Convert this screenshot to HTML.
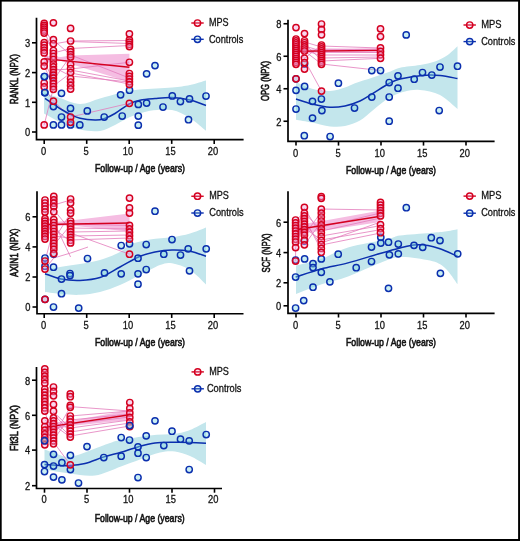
<!DOCTYPE html>
<html><head><meta charset="utf-8"><style>
html,body{margin:0;padding:0;background:#fff;}
svg{display:block;font-family:"Liberation Sans", sans-serif;will-change:transform;}
</style></head><body>
<svg width="520" height="541" viewBox="0 0 520 541">
<rect x="0" y="0" width="520" height="541" fill="#fff"/>
<path d="M44.0,93.0 C46.7,93.8 54.0,96.2 60.0,98.0 C66.0,99.8 73.3,103.9 80.0,104.0 C86.7,104.1 93.3,100.3 100.0,98.5 C106.7,96.7 113.3,94.5 120.0,93.0 C126.7,91.5 131.3,90.4 140.0,89.5 C148.7,88.6 163.7,88.2 172.0,87.4 C180.3,86.7 184.3,86.2 190.0,85.0 C195.7,83.8 203.3,81.2 206.0,80.5 L206.0,130.8 C203.3,128.7 195.7,121.5 190.0,118.0 C184.3,114.5 178.7,111.2 172.0,110.0 C165.3,108.8 157.0,109.6 150.0,110.8 C143.0,112.0 135.8,114.6 130.0,117.0 C124.2,119.4 120.0,122.7 115.0,125.0 C110.0,127.3 105.8,130.2 100.0,131.0 C94.2,131.8 86.7,131.1 80.0,129.6 C73.3,128.1 66.0,124.7 60.0,122.0 C54.0,119.3 46.7,114.9 44.0,113.5 Z" fill="#c3e6ec"/>
<polygon points="44.2,56.0 61.0,57.0 70.6,55.5 129.4,53.8 129.4,82.0 70.6,64.0 61.0,61.0 44.2,63.0" fill="#f5bde2"/>
<polyline points="70.6,41.0 129.4,40.5" fill="none" stroke="#e47cbc" stroke-width="1.0" opacity="0.8"/>
<polyline points="70.6,41.5 129.4,43.5" fill="none" stroke="#e47cbc" stroke-width="1.0" opacity="0.8"/>
<polyline points="70.6,48.5 129.4,45.5" fill="none" stroke="#e47cbc" stroke-width="1.0" opacity="0.8"/>
<polyline points="70.6,55.0 129.4,78.0" fill="none" stroke="#e47cbc" stroke-width="1.0" opacity="0.8"/>
<polyline points="70.6,69.0 129.4,62.3" fill="none" stroke="#e47cbc" stroke-width="1.0" opacity="0.8"/>
<polyline points="70.6,70.0 129.4,81.0" fill="none" stroke="#e47cbc" stroke-width="1.0" opacity="0.8"/>
<polyline points="70.6,73.0 129.4,84.0" fill="none" stroke="#e47cbc" stroke-width="1.0" opacity="0.8"/>
<polyline points="70.6,76.0 129.4,82.0" fill="none" stroke="#e47cbc" stroke-width="1.0" opacity="0.8"/>
<polyline points="70.6,117.0 129.4,103.3" fill="none" stroke="#e47cbc" stroke-width="1.0" opacity="0.8"/>
<polyline points="44.2,28.0 53.4,44.0 70.6,41.0" fill="none" stroke="#e47cbc" stroke-width="1.0" opacity="0.8"/>
<polyline points="44.2,31.0 53.4,53.0 70.6,48.5" fill="none" stroke="#e47cbc" stroke-width="1.0" opacity="0.8"/>
<polyline points="44.2,46.0 53.4,40.0 70.6,55.0" fill="none" stroke="#e47cbc" stroke-width="1.0" opacity="0.8"/>
<polyline points="44.2,50.0 53.4,70.0 70.6,69.0" fill="none" stroke="#e47cbc" stroke-width="1.0" opacity="0.8"/>
<polyline points="44.2,62.0 53.4,80.0 70.6,56.0" fill="none" stroke="#e47cbc" stroke-width="1.0" opacity="0.8"/>
<polyline points="44.2,66.0 53.4,86.0 70.6,73.0" fill="none" stroke="#e47cbc" stroke-width="1.0" opacity="0.8"/>
<polyline points="44.2,84.0 53.4,67.0 70.6,76.0" fill="none" stroke="#e47cbc" stroke-width="1.0" opacity="0.8"/>
<polyline points="44.2,124.9 53.4,88.0" fill="none" stroke="#e47cbc" stroke-width="1.0" opacity="0.8"/>
<polyline points="44.2,88.0 53.4,101.0 70.6,117.0" fill="none" stroke="#e47cbc" stroke-width="1.0" opacity="0.8"/>
<polyline points="44.2,58.6 129.4,67.3" fill="none" stroke="#d4001f" stroke-width="1.4"/>
<path d="M45.0,98.4 C46.4,99.3 50.6,102.2 53.4,104.0 C56.1,105.8 58.6,107.8 61.5,109.5 C64.4,111.2 67.5,113.0 70.6,114.5 C73.7,116.0 75.9,117.4 80.0,118.3 C84.1,119.2 91.0,119.9 95.0,120.0 C99.0,120.1 100.7,119.9 104.0,118.8 C107.3,117.7 110.8,116.0 115.0,113.5 C119.2,111.0 125.3,106.0 129.5,103.8 C133.7,101.6 135.8,101.1 140.0,100.2 C144.2,99.3 149.7,99.0 155.0,98.6 C160.3,98.1 166.2,97.3 172.0,97.5 C177.8,97.7 184.3,98.7 190.0,100.0 C195.7,101.3 203.3,104.6 206.0,105.5" fill="none" stroke="#0b2fae" stroke-width="1.5"/>
<circle cx="44.4" cy="76.5" r="3.15" fill="#80d8e0" fill-opacity="0.42" stroke="#0b2fae" stroke-width="1.45"/>
<circle cx="52.8" cy="77.0" r="3.15" fill="#80d8e0" fill-opacity="0.42" stroke="#0b2fae" stroke-width="1.45"/>
<circle cx="44.8" cy="92.5" r="3.15" fill="#80d8e0" fill-opacity="0.42" stroke="#0b2fae" stroke-width="1.45"/>
<circle cx="61.5" cy="93.3" r="3.15" fill="#80d8e0" fill-opacity="0.42" stroke="#0b2fae" stroke-width="1.45"/>
<circle cx="53.4" cy="106.5" r="3.15" fill="#80d8e0" fill-opacity="0.42" stroke="#0b2fae" stroke-width="1.45"/>
<circle cx="70.5" cy="108.4" r="3.15" fill="#80d8e0" fill-opacity="0.42" stroke="#0b2fae" stroke-width="1.45"/>
<circle cx="61.5" cy="117.0" r="3.15" fill="#80d8e0" fill-opacity="0.42" stroke="#0b2fae" stroke-width="1.45"/>
<circle cx="87.3" cy="110.9" r="3.15" fill="#80d8e0" fill-opacity="0.42" stroke="#0b2fae" stroke-width="1.45"/>
<circle cx="104.2" cy="117.0" r="3.15" fill="#80d8e0" fill-opacity="0.42" stroke="#0b2fae" stroke-width="1.45"/>
<circle cx="122.2" cy="116.0" r="3.15" fill="#80d8e0" fill-opacity="0.42" stroke="#0b2fae" stroke-width="1.45"/>
<circle cx="120.6" cy="94.8" r="3.15" fill="#80d8e0" fill-opacity="0.42" stroke="#0b2fae" stroke-width="1.45"/>
<circle cx="129.5" cy="90.2" r="3.15" fill="#80d8e0" fill-opacity="0.42" stroke="#0b2fae" stroke-width="1.45"/>
<circle cx="53.4" cy="124.9" r="3.15" fill="#80d8e0" fill-opacity="0.42" stroke="#0b2fae" stroke-width="1.45"/>
<circle cx="61.5" cy="124.9" r="3.15" fill="#80d8e0" fill-opacity="0.42" stroke="#0b2fae" stroke-width="1.45"/>
<circle cx="70.5" cy="124.9" r="3.15" fill="#80d8e0" fill-opacity="0.42" stroke="#0b2fae" stroke-width="1.45"/>
<circle cx="79.8" cy="124.9" r="3.15" fill="#80d8e0" fill-opacity="0.42" stroke="#0b2fae" stroke-width="1.45"/>
<circle cx="138.3" cy="104.4" r="3.15" fill="#80d8e0" fill-opacity="0.42" stroke="#0b2fae" stroke-width="1.45"/>
<circle cx="138.3" cy="116.1" r="3.15" fill="#80d8e0" fill-opacity="0.42" stroke="#0b2fae" stroke-width="1.45"/>
<circle cx="138.3" cy="125.2" r="3.15" fill="#80d8e0" fill-opacity="0.42" stroke="#0b2fae" stroke-width="1.45"/>
<circle cx="146.6" cy="73.8" r="3.15" fill="#80d8e0" fill-opacity="0.42" stroke="#0b2fae" stroke-width="1.45"/>
<circle cx="155.0" cy="65.6" r="3.15" fill="#80d8e0" fill-opacity="0.42" stroke="#0b2fae" stroke-width="1.45"/>
<circle cx="146.6" cy="103.1" r="3.15" fill="#80d8e0" fill-opacity="0.42" stroke="#0b2fae" stroke-width="1.45"/>
<circle cx="163.0" cy="107.0" r="3.15" fill="#80d8e0" fill-opacity="0.42" stroke="#0b2fae" stroke-width="1.45"/>
<circle cx="172.3" cy="95.9" r="3.15" fill="#80d8e0" fill-opacity="0.42" stroke="#0b2fae" stroke-width="1.45"/>
<circle cx="180.4" cy="101.5" r="3.15" fill="#80d8e0" fill-opacity="0.42" stroke="#0b2fae" stroke-width="1.45"/>
<circle cx="189.5" cy="98.9" r="3.15" fill="#80d8e0" fill-opacity="0.42" stroke="#0b2fae" stroke-width="1.45"/>
<circle cx="188.5" cy="119.7" r="3.15" fill="#80d8e0" fill-opacity="0.42" stroke="#0b2fae" stroke-width="1.45"/>
<circle cx="206.0" cy="96.0" r="3.15" fill="#80d8e0" fill-opacity="0.42" stroke="#0b2fae" stroke-width="1.45"/>
<circle cx="44.2" cy="23.4" r="3.15" fill="#f0a0d8" fill-opacity="0.42" stroke="#d4001f" stroke-width="1.45"/>
<circle cx="44.2" cy="25.3" r="3.15" fill="#f0a0d8" fill-opacity="0.42" stroke="#d4001f" stroke-width="1.45"/>
<circle cx="44.2" cy="27.2" r="3.15" fill="#f0a0d8" fill-opacity="0.42" stroke="#d4001f" stroke-width="1.45"/>
<circle cx="44.2" cy="29.2" r="3.15" fill="#f0a0d8" fill-opacity="0.42" stroke="#d4001f" stroke-width="1.45"/>
<circle cx="44.2" cy="31.1" r="3.15" fill="#f0a0d8" fill-opacity="0.42" stroke="#d4001f" stroke-width="1.45"/>
<circle cx="44.2" cy="33.0" r="3.15" fill="#f0a0d8" fill-opacity="0.42" stroke="#d4001f" stroke-width="1.45"/>
<circle cx="44.2" cy="42.6" r="3.15" fill="#f0a0d8" fill-opacity="0.42" stroke="#d4001f" stroke-width="1.45"/>
<circle cx="44.2" cy="45.2" r="3.15" fill="#f0a0d8" fill-opacity="0.42" stroke="#d4001f" stroke-width="1.45"/>
<circle cx="44.2" cy="47.8" r="3.15" fill="#f0a0d8" fill-opacity="0.42" stroke="#d4001f" stroke-width="1.45"/>
<circle cx="44.2" cy="50.3" r="3.15" fill="#f0a0d8" fill-opacity="0.42" stroke="#d4001f" stroke-width="1.45"/>
<circle cx="44.2" cy="52.9" r="3.15" fill="#f0a0d8" fill-opacity="0.42" stroke="#d4001f" stroke-width="1.45"/>
<circle cx="44.2" cy="61.9" r="3.15" fill="#f0a0d8" fill-opacity="0.42" stroke="#d4001f" stroke-width="1.45"/>
<circle cx="44.2" cy="66.1" r="3.15" fill="#f0a0d8" fill-opacity="0.42" stroke="#d4001f" stroke-width="1.45"/>
<circle cx="44.2" cy="83.0" r="3.15" fill="#f0a0d8" fill-opacity="0.42" stroke="#d4001f" stroke-width="1.45"/>
<circle cx="44.2" cy="86.8" r="3.15" fill="#f0a0d8" fill-opacity="0.42" stroke="#d4001f" stroke-width="1.45"/>
<circle cx="44.2" cy="124.9" r="3.15" fill="#f0a0d8" fill-opacity="0.42" stroke="#d4001f" stroke-width="1.45"/>
<circle cx="53.4" cy="22.8" r="3.15" fill="#f0a0d8" fill-opacity="0.42" stroke="#d4001f" stroke-width="1.45"/>
<circle cx="53.4" cy="39.7" r="3.15" fill="#f0a0d8" fill-opacity="0.42" stroke="#d4001f" stroke-width="1.45"/>
<circle cx="53.4" cy="43.8" r="3.15" fill="#f0a0d8" fill-opacity="0.42" stroke="#d4001f" stroke-width="1.45"/>
<circle cx="53.4" cy="50.5" r="3.15" fill="#f0a0d8" fill-opacity="0.42" stroke="#d4001f" stroke-width="1.45"/>
<circle cx="53.4" cy="53.5" r="3.15" fill="#f0a0d8" fill-opacity="0.42" stroke="#d4001f" stroke-width="1.45"/>
<circle cx="53.4" cy="56.5" r="3.15" fill="#f0a0d8" fill-opacity="0.42" stroke="#d4001f" stroke-width="1.45"/>
<circle cx="53.4" cy="59.5" r="3.15" fill="#f0a0d8" fill-opacity="0.42" stroke="#d4001f" stroke-width="1.45"/>
<circle cx="53.4" cy="64.0" r="3.15" fill="#f0a0d8" fill-opacity="0.42" stroke="#d4001f" stroke-width="1.45"/>
<circle cx="53.4" cy="66.8" r="3.15" fill="#f0a0d8" fill-opacity="0.42" stroke="#d4001f" stroke-width="1.45"/>
<circle cx="53.4" cy="69.6" r="3.15" fill="#f0a0d8" fill-opacity="0.42" stroke="#d4001f" stroke-width="1.45"/>
<circle cx="53.4" cy="72.4" r="3.15" fill="#f0a0d8" fill-opacity="0.42" stroke="#d4001f" stroke-width="1.45"/>
<circle cx="53.4" cy="75.2" r="3.15" fill="#f0a0d8" fill-opacity="0.42" stroke="#d4001f" stroke-width="1.45"/>
<circle cx="53.4" cy="78.1" r="3.15" fill="#f0a0d8" fill-opacity="0.42" stroke="#d4001f" stroke-width="1.45"/>
<circle cx="53.4" cy="80.9" r="3.15" fill="#f0a0d8" fill-opacity="0.42" stroke="#d4001f" stroke-width="1.45"/>
<circle cx="53.4" cy="83.7" r="3.15" fill="#f0a0d8" fill-opacity="0.42" stroke="#d4001f" stroke-width="1.45"/>
<circle cx="53.4" cy="86.5" r="3.15" fill="#f0a0d8" fill-opacity="0.42" stroke="#d4001f" stroke-width="1.45"/>
<circle cx="53.4" cy="89.3" r="3.15" fill="#f0a0d8" fill-opacity="0.42" stroke="#d4001f" stroke-width="1.45"/>
<circle cx="53.4" cy="101.2" r="3.15" fill="#f0a0d8" fill-opacity="0.42" stroke="#d4001f" stroke-width="1.45"/>
<circle cx="70.6" cy="28.4" r="3.15" fill="#f0a0d8" fill-opacity="0.42" stroke="#d4001f" stroke-width="1.45"/>
<circle cx="70.6" cy="41.0" r="3.15" fill="#f0a0d8" fill-opacity="0.42" stroke="#d4001f" stroke-width="1.45"/>
<circle cx="70.6" cy="49.4" r="3.15" fill="#f0a0d8" fill-opacity="0.42" stroke="#d4001f" stroke-width="1.45"/>
<circle cx="70.6" cy="51.9" r="3.15" fill="#f0a0d8" fill-opacity="0.42" stroke="#d4001f" stroke-width="1.45"/>
<circle cx="70.6" cy="54.5" r="3.15" fill="#f0a0d8" fill-opacity="0.42" stroke="#d4001f" stroke-width="1.45"/>
<circle cx="70.6" cy="57.0" r="3.15" fill="#f0a0d8" fill-opacity="0.42" stroke="#d4001f" stroke-width="1.45"/>
<circle cx="70.6" cy="64.5" r="3.15" fill="#f0a0d8" fill-opacity="0.42" stroke="#d4001f" stroke-width="1.45"/>
<circle cx="70.6" cy="68.5" r="3.15" fill="#f0a0d8" fill-opacity="0.42" stroke="#d4001f" stroke-width="1.45"/>
<circle cx="70.6" cy="72.5" r="3.15" fill="#f0a0d8" fill-opacity="0.42" stroke="#d4001f" stroke-width="1.45"/>
<circle cx="70.6" cy="78.5" r="3.15" fill="#f0a0d8" fill-opacity="0.42" stroke="#d4001f" stroke-width="1.45"/>
<circle cx="70.6" cy="82.0" r="3.15" fill="#f0a0d8" fill-opacity="0.42" stroke="#d4001f" stroke-width="1.45"/>
<circle cx="70.6" cy="85.5" r="3.15" fill="#f0a0d8" fill-opacity="0.42" stroke="#d4001f" stroke-width="1.45"/>
<circle cx="70.6" cy="89.0" r="3.15" fill="#f0a0d8" fill-opacity="0.42" stroke="#d4001f" stroke-width="1.45"/>
<circle cx="70.6" cy="117.0" r="3.15" fill="#f0a0d8" fill-opacity="0.42" stroke="#d4001f" stroke-width="1.45"/>
<circle cx="70.6" cy="122.3" r="3.15" fill="#f0a0d8" fill-opacity="0.42" stroke="#d4001f" stroke-width="1.45"/>
<circle cx="129.4" cy="33.8" r="3.15" fill="#f0a0d8" fill-opacity="0.42" stroke="#d4001f" stroke-width="1.45"/>
<circle cx="129.4" cy="39.9" r="3.15" fill="#f0a0d8" fill-opacity="0.42" stroke="#d4001f" stroke-width="1.45"/>
<circle cx="129.4" cy="42.1" r="3.15" fill="#f0a0d8" fill-opacity="0.42" stroke="#d4001f" stroke-width="1.45"/>
<circle cx="129.4" cy="44.4" r="3.15" fill="#f0a0d8" fill-opacity="0.42" stroke="#d4001f" stroke-width="1.45"/>
<circle cx="129.4" cy="46.6" r="3.15" fill="#f0a0d8" fill-opacity="0.42" stroke="#d4001f" stroke-width="1.45"/>
<circle cx="129.4" cy="62.3" r="3.15" fill="#f0a0d8" fill-opacity="0.42" stroke="#d4001f" stroke-width="1.45"/>
<circle cx="129.4" cy="73.5" r="3.15" fill="#f0a0d8" fill-opacity="0.42" stroke="#d4001f" stroke-width="1.45"/>
<circle cx="129.4" cy="76.3" r="3.15" fill="#f0a0d8" fill-opacity="0.42" stroke="#d4001f" stroke-width="1.45"/>
<circle cx="129.4" cy="79.0" r="3.15" fill="#f0a0d8" fill-opacity="0.42" stroke="#d4001f" stroke-width="1.45"/>
<circle cx="129.4" cy="81.8" r="3.15" fill="#f0a0d8" fill-opacity="0.42" stroke="#d4001f" stroke-width="1.45"/>
<circle cx="129.4" cy="84.6" r="3.15" fill="#f0a0d8" fill-opacity="0.42" stroke="#d4001f" stroke-width="1.45"/>
<circle cx="129.4" cy="103.3" r="3.15" fill="#f0a0d8" fill-opacity="0.42" stroke="#d4001f" stroke-width="1.45"/>
<circle cx="44.4" cy="76.5" r="3.15" fill="#80d8e0" fill-opacity="0.42" stroke="#0b2fae" stroke-width="1.45"/>
<circle cx="44.8" cy="92.5" r="3.15" fill="#80d8e0" fill-opacity="0.42" stroke="#0b2fae" stroke-width="1.45"/>
<path d="M36.5,17.7 L36.5,139.7 L243.6,139.7" fill="none" stroke="#000" stroke-width="1.7" stroke-linecap="butt" stroke-linejoin="miter"/>
<line x1="44.2" y1="139.7" x2="44.2" y2="143.89999999999998" stroke="#000" stroke-width="1.6"/>
<text opacity="0.99" x="43.7" y="154.9" font-size="10.4" text-anchor="middle" font-weight="normal" fill="#111" textLength="5.2" lengthAdjust="spacingAndGlyphs" stroke="#111" stroke-width="0.3">0</text>
<line x1="86.7" y1="139.7" x2="86.7" y2="143.89999999999998" stroke="#000" stroke-width="1.6"/>
<text opacity="0.99" x="86.2" y="154.9" font-size="10.4" text-anchor="middle" font-weight="normal" fill="#111" textLength="5.2" lengthAdjust="spacingAndGlyphs" stroke="#111" stroke-width="0.3">5</text>
<line x1="129.2" y1="139.7" x2="129.2" y2="143.89999999999998" stroke="#000" stroke-width="1.6"/>
<text opacity="0.99" x="128.0" y="154.9" font-size="10.4" text-anchor="middle" font-weight="normal" fill="#111" textLength="10.4" lengthAdjust="spacingAndGlyphs" stroke="#111" stroke-width="0.3">10</text>
<line x1="171.7" y1="139.7" x2="171.7" y2="143.89999999999998" stroke="#000" stroke-width="1.6"/>
<text opacity="0.99" x="170.5" y="154.9" font-size="10.4" text-anchor="middle" font-weight="normal" fill="#111" textLength="10.4" lengthAdjust="spacingAndGlyphs" stroke="#111" stroke-width="0.3">15</text>
<line x1="214.2" y1="139.7" x2="214.2" y2="143.89999999999998" stroke="#000" stroke-width="1.6"/>
<text opacity="0.99" x="213.0" y="154.9" font-size="10.4" text-anchor="middle" font-weight="normal" fill="#111" textLength="10.4" lengthAdjust="spacingAndGlyphs" stroke="#111" stroke-width="0.3">20</text>
<line x1="32.0" y1="132.0" x2="36.5" y2="132.0" stroke="#000" stroke-width="1.6"/>
<text opacity="0.99" x="30.1" y="136.3" font-size="10.4" text-anchor="end" font-weight="normal" fill="#111" textLength="5.2" lengthAdjust="spacingAndGlyphs" stroke="#111" stroke-width="0.3">0</text>
<line x1="32.0" y1="102.3" x2="36.5" y2="102.3" stroke="#000" stroke-width="1.6"/>
<text opacity="0.99" x="30.1" y="106.6" font-size="10.4" text-anchor="end" font-weight="normal" fill="#111" textLength="5.2" lengthAdjust="spacingAndGlyphs" stroke="#111" stroke-width="0.3">1</text>
<line x1="32.0" y1="72.6" x2="36.5" y2="72.6" stroke="#000" stroke-width="1.6"/>
<text opacity="0.99" x="30.1" y="76.9" font-size="10.4" text-anchor="end" font-weight="normal" fill="#111" textLength="5.2" lengthAdjust="spacingAndGlyphs" stroke="#111" stroke-width="0.3">2</text>
<line x1="32.0" y1="42.8" x2="36.5" y2="42.8" stroke="#000" stroke-width="1.6"/>
<text opacity="0.99" x="30.1" y="47.1" font-size="10.4" text-anchor="end" font-weight="normal" fill="#111" textLength="5.2" lengthAdjust="spacingAndGlyphs" stroke="#111" stroke-width="0.3">3</text>
<text opacity="0.99" x="140" y="172.3" font-size="11.5" text-anchor="middle" font-weight="normal" fill="#111" textLength="90" lengthAdjust="spacingAndGlyphs" stroke="#111" stroke-width="0.65">Follow-up / Age (years)</text>
<text opacity="0.99" x="18.2" y="79.2" font-size="11.5" text-anchor="middle" font-weight="normal" fill="#111" textLength="50" lengthAdjust="spacingAndGlyphs" transform="rotate(-90 18.2 79.2)" stroke="#111" stroke-width="0.7">RANKL (NPX)</text>
<line x1="191.3" y1="23.0" x2="203.7" y2="23.0" stroke="#d4001f" stroke-width="1.4"/>
<circle cx="197.5" cy="23.0" r="3.15" fill="#f0a0d8" fill-opacity="0.22" stroke="#d4001f" stroke-width="1.45"/>
<text opacity="0.99" x="208.9" y="26.2" font-size="10.3" text-anchor="start" font-weight="normal" fill="#111" textLength="19.6" lengthAdjust="spacingAndGlyphs" stroke="#111" stroke-width="0.3">MPS</text>
<line x1="191.3" y1="39.3" x2="203.7" y2="39.3" stroke="#0b2fae" stroke-width="1.4"/>
<circle cx="197.5" cy="39.3" r="3.15" fill="#80d8e0" fill-opacity="0.22" stroke="#0b2fae" stroke-width="1.45"/>
<text opacity="0.99" x="208.9" y="42.5" font-size="10.3" text-anchor="start" font-weight="normal" fill="#111" textLength="34.4" lengthAdjust="spacingAndGlyphs" stroke="#111" stroke-width="0.3">Controls</text>
<path d="M296.0,82.0 C298.7,83.1 306.3,87.3 312.0,88.8 C317.7,90.3 324.5,91.2 330.0,91.0 C335.5,90.8 340.8,88.8 345.0,87.5 C349.2,86.2 350.5,84.8 355.0,83.2 C359.5,81.6 366.3,79.6 372.0,77.7 C377.7,75.8 384.3,73.7 389.0,72.0 C393.7,70.3 394.8,68.9 400.0,67.7 C405.2,66.5 414.2,66.0 420.0,65.0 C425.8,64.0 430.5,63.1 435.0,61.5 C439.5,59.9 443.2,58.0 447.0,55.5 C450.8,53.0 455.8,47.8 457.5,46.3 L457.5,109.0 C454.6,106.7 446.2,98.2 440.0,95.0 C433.8,91.8 425.8,90.6 420.0,90.0 C414.2,89.4 410.2,90.2 405.0,91.5 C399.8,92.8 394.5,94.8 389.0,98.0 C383.5,101.2 376.8,107.2 372.0,111.0 C367.2,114.8 364.5,118.0 360.0,120.5 C355.5,123.0 350.0,125.0 345.0,126.0 C340.0,127.0 335.5,127.0 330.0,126.4 C324.5,125.8 317.7,123.6 312.0,122.5 C306.3,121.4 298.7,120.2 296.0,119.7 Z" fill="#c3e6ec"/>
<polygon points="296.0,49.5 380.5,48.0 380.5,53.0 296.0,53.0" fill="#f5bde2"/>
<polyline points="321.5,46.0 380.5,48.0" fill="none" stroke="#e47cbc" stroke-width="1.0" opacity="0.8"/>
<polyline points="321.5,49.0 380.5,50.0" fill="none" stroke="#e47cbc" stroke-width="1.0" opacity="0.8"/>
<polyline points="321.5,52.0 380.5,52.5" fill="none" stroke="#e47cbc" stroke-width="1.0" opacity="0.8"/>
<polyline points="321.5,55.0 380.5,55.0" fill="none" stroke="#e47cbc" stroke-width="1.0" opacity="0.8"/>
<polyline points="321.5,58.0 380.5,57.0" fill="none" stroke="#e47cbc" stroke-width="1.0" opacity="0.8"/>
<polyline points="321.5,61.0 380.5,58.3" fill="none" stroke="#e47cbc" stroke-width="1.0" opacity="0.8"/>
<polyline points="321.5,64.0 380.5,70.5" fill="none" stroke="#e47cbc" stroke-width="1.0" opacity="0.8"/>
<polyline points="296.0,42.0 304.5,42.0 321.5,47.0" fill="none" stroke="#e47cbc" stroke-width="1.0" opacity="0.8"/>
<polyline points="296.0,48.0 304.5,46.0 321.5,51.0" fill="none" stroke="#e47cbc" stroke-width="1.0" opacity="0.8"/>
<polyline points="296.0,54.0 304.5,50.0 321.5,56.0" fill="none" stroke="#e47cbc" stroke-width="1.0" opacity="0.8"/>
<polyline points="296.0,60.0 304.5,44.0 321.5,60.0" fill="none" stroke="#e47cbc" stroke-width="1.0" opacity="0.8"/>
<polyline points="296.0,64.0 304.5,51.0 321.5,64.0" fill="none" stroke="#e47cbc" stroke-width="1.0" opacity="0.8"/>
<polyline points="296.0,39.0 304.5,58.3 321.5,45.0" fill="none" stroke="#e47cbc" stroke-width="1.0" opacity="0.8"/>
<polyline points="304.5,60.0 321.5,91.1" fill="none" stroke="#e47cbc" stroke-width="1.0" opacity="0.8"/>
<polyline points="296.0,51.3 380.5,50.4" fill="none" stroke="#d4001f" stroke-width="1.4"/>
<path d="M296.0,99.0 C298.7,99.8 306.3,102.6 312.0,104.0 C317.7,105.4 324.5,107.0 330.0,107.3 C335.5,107.6 340.0,107.0 345.0,106.0 C350.0,105.0 355.5,103.0 360.0,101.0 C364.5,99.0 367.2,96.9 372.0,94.0 C376.8,91.1 384.3,86.0 389.0,83.5 C393.7,81.0 394.5,80.3 400.0,79.0 C405.5,77.7 415.3,76.1 422.0,75.5 C428.7,74.9 434.1,75.0 440.0,75.5 C445.9,76.0 454.6,78.1 457.5,78.6" fill="none" stroke="#0b2fae" stroke-width="1.5"/>
<circle cx="296.0" cy="78.8" r="3.15" fill="#80d8e0" fill-opacity="0.42" stroke="#0b2fae" stroke-width="1.45"/>
<circle cx="304.5" cy="64.0" r="3.15" fill="#80d8e0" fill-opacity="0.42" stroke="#0b2fae" stroke-width="1.45"/>
<circle cx="296.0" cy="90.3" r="3.15" fill="#80d8e0" fill-opacity="0.42" stroke="#0b2fae" stroke-width="1.45"/>
<circle cx="304.6" cy="86.4" r="3.15" fill="#80d8e0" fill-opacity="0.42" stroke="#0b2fae" stroke-width="1.45"/>
<circle cx="312.5" cy="101.3" r="3.15" fill="#80d8e0" fill-opacity="0.42" stroke="#0b2fae" stroke-width="1.45"/>
<circle cx="321.4" cy="99.0" r="3.15" fill="#80d8e0" fill-opacity="0.42" stroke="#0b2fae" stroke-width="1.45"/>
<circle cx="296.0" cy="109.0" r="3.15" fill="#80d8e0" fill-opacity="0.42" stroke="#0b2fae" stroke-width="1.45"/>
<circle cx="321.9" cy="110.6" r="3.15" fill="#80d8e0" fill-opacity="0.42" stroke="#0b2fae" stroke-width="1.45"/>
<circle cx="312.5" cy="118.1" r="3.15" fill="#80d8e0" fill-opacity="0.42" stroke="#0b2fae" stroke-width="1.45"/>
<circle cx="304.3" cy="135.7" r="3.15" fill="#80d8e0" fill-opacity="0.42" stroke="#0b2fae" stroke-width="1.45"/>
<circle cx="330.1" cy="136.5" r="3.15" fill="#80d8e0" fill-opacity="0.42" stroke="#0b2fae" stroke-width="1.45"/>
<circle cx="338.4" cy="83.2" r="3.15" fill="#80d8e0" fill-opacity="0.42" stroke="#0b2fae" stroke-width="1.45"/>
<circle cx="354.5" cy="108.0" r="3.15" fill="#80d8e0" fill-opacity="0.42" stroke="#0b2fae" stroke-width="1.45"/>
<circle cx="371.8" cy="70.5" r="3.15" fill="#80d8e0" fill-opacity="0.42" stroke="#0b2fae" stroke-width="1.45"/>
<circle cx="380.5" cy="70.5" r="3.15" fill="#80d8e0" fill-opacity="0.42" stroke="#0b2fae" stroke-width="1.45"/>
<circle cx="371.8" cy="97.0" r="3.15" fill="#80d8e0" fill-opacity="0.42" stroke="#0b2fae" stroke-width="1.45"/>
<circle cx="389.2" cy="82.5" r="3.15" fill="#80d8e0" fill-opacity="0.42" stroke="#0b2fae" stroke-width="1.45"/>
<circle cx="389.2" cy="97.0" r="3.15" fill="#80d8e0" fill-opacity="0.42" stroke="#0b2fae" stroke-width="1.45"/>
<circle cx="389.2" cy="121.2" r="3.15" fill="#80d8e0" fill-opacity="0.42" stroke="#0b2fae" stroke-width="1.45"/>
<circle cx="398.0" cy="75.8" r="3.15" fill="#80d8e0" fill-opacity="0.42" stroke="#0b2fae" stroke-width="1.45"/>
<circle cx="398.0" cy="88.2" r="3.15" fill="#80d8e0" fill-opacity="0.42" stroke="#0b2fae" stroke-width="1.45"/>
<circle cx="406.2" cy="34.9" r="3.15" fill="#80d8e0" fill-opacity="0.42" stroke="#0b2fae" stroke-width="1.45"/>
<circle cx="414.2" cy="79.2" r="3.15" fill="#80d8e0" fill-opacity="0.42" stroke="#0b2fae" stroke-width="1.45"/>
<circle cx="422.5" cy="72.5" r="3.15" fill="#80d8e0" fill-opacity="0.42" stroke="#0b2fae" stroke-width="1.45"/>
<circle cx="431.8" cy="75.0" r="3.15" fill="#80d8e0" fill-opacity="0.42" stroke="#0b2fae" stroke-width="1.45"/>
<circle cx="440.0" cy="67.0" r="3.15" fill="#80d8e0" fill-opacity="0.42" stroke="#0b2fae" stroke-width="1.45"/>
<circle cx="439.2" cy="110.5" r="3.15" fill="#80d8e0" fill-opacity="0.42" stroke="#0b2fae" stroke-width="1.45"/>
<circle cx="457.5" cy="66.2" r="3.15" fill="#80d8e0" fill-opacity="0.42" stroke="#0b2fae" stroke-width="1.45"/>
<circle cx="296.0" cy="27.6" r="3.15" fill="#f0a0d8" fill-opacity="0.42" stroke="#d4001f" stroke-width="1.45"/>
<circle cx="296.0" cy="39.0" r="3.15" fill="#f0a0d8" fill-opacity="0.42" stroke="#d4001f" stroke-width="1.45"/>
<circle cx="296.0" cy="40.9" r="3.15" fill="#f0a0d8" fill-opacity="0.42" stroke="#d4001f" stroke-width="1.45"/>
<circle cx="296.0" cy="42.9" r="3.15" fill="#f0a0d8" fill-opacity="0.42" stroke="#d4001f" stroke-width="1.45"/>
<circle cx="296.0" cy="44.8" r="3.15" fill="#f0a0d8" fill-opacity="0.42" stroke="#d4001f" stroke-width="1.45"/>
<circle cx="296.0" cy="46.8" r="3.15" fill="#f0a0d8" fill-opacity="0.42" stroke="#d4001f" stroke-width="1.45"/>
<circle cx="296.0" cy="48.7" r="3.15" fill="#f0a0d8" fill-opacity="0.42" stroke="#d4001f" stroke-width="1.45"/>
<circle cx="296.0" cy="50.7" r="3.15" fill="#f0a0d8" fill-opacity="0.42" stroke="#d4001f" stroke-width="1.45"/>
<circle cx="296.0" cy="52.6" r="3.15" fill="#f0a0d8" fill-opacity="0.42" stroke="#d4001f" stroke-width="1.45"/>
<circle cx="296.0" cy="54.6" r="3.15" fill="#f0a0d8" fill-opacity="0.42" stroke="#d4001f" stroke-width="1.45"/>
<circle cx="296.0" cy="56.5" r="3.15" fill="#f0a0d8" fill-opacity="0.42" stroke="#d4001f" stroke-width="1.45"/>
<circle cx="296.0" cy="58.5" r="3.15" fill="#f0a0d8" fill-opacity="0.42" stroke="#d4001f" stroke-width="1.45"/>
<circle cx="296.0" cy="60.4" r="3.15" fill="#f0a0d8" fill-opacity="0.42" stroke="#d4001f" stroke-width="1.45"/>
<circle cx="296.0" cy="62.4" r="3.15" fill="#f0a0d8" fill-opacity="0.42" stroke="#d4001f" stroke-width="1.45"/>
<circle cx="296.0" cy="64.3" r="3.15" fill="#f0a0d8" fill-opacity="0.42" stroke="#d4001f" stroke-width="1.45"/>
<circle cx="296.0" cy="78.8" r="3.15" fill="#f0a0d8" fill-opacity="0.42" stroke="#d4001f" stroke-width="1.45"/>
<circle cx="304.5" cy="33.6" r="3.15" fill="#f0a0d8" fill-opacity="0.42" stroke="#d4001f" stroke-width="1.45"/>
<circle cx="304.5" cy="40.8" r="3.15" fill="#f0a0d8" fill-opacity="0.42" stroke="#d4001f" stroke-width="1.45"/>
<circle cx="304.5" cy="42.8" r="3.15" fill="#f0a0d8" fill-opacity="0.42" stroke="#d4001f" stroke-width="1.45"/>
<circle cx="304.5" cy="44.9" r="3.15" fill="#f0a0d8" fill-opacity="0.42" stroke="#d4001f" stroke-width="1.45"/>
<circle cx="304.5" cy="46.9" r="3.15" fill="#f0a0d8" fill-opacity="0.42" stroke="#d4001f" stroke-width="1.45"/>
<circle cx="304.5" cy="49.0" r="3.15" fill="#f0a0d8" fill-opacity="0.42" stroke="#d4001f" stroke-width="1.45"/>
<circle cx="304.5" cy="51.0" r="3.15" fill="#f0a0d8" fill-opacity="0.42" stroke="#d4001f" stroke-width="1.45"/>
<circle cx="304.5" cy="58.3" r="3.15" fill="#f0a0d8" fill-opacity="0.42" stroke="#d4001f" stroke-width="1.45"/>
<circle cx="304.5" cy="62.5" r="3.15" fill="#f0a0d8" fill-opacity="0.42" stroke="#d4001f" stroke-width="1.45"/>
<circle cx="304.5" cy="69.1" r="3.15" fill="#f0a0d8" fill-opacity="0.42" stroke="#d4001f" stroke-width="1.45"/>
<circle cx="321.5" cy="24.0" r="3.15" fill="#f0a0d8" fill-opacity="0.42" stroke="#d4001f" stroke-width="1.45"/>
<circle cx="321.5" cy="29.4" r="3.15" fill="#f0a0d8" fill-opacity="0.42" stroke="#d4001f" stroke-width="1.45"/>
<circle cx="321.5" cy="34.8" r="3.15" fill="#f0a0d8" fill-opacity="0.42" stroke="#d4001f" stroke-width="1.45"/>
<circle cx="321.5" cy="45.0" r="3.15" fill="#f0a0d8" fill-opacity="0.42" stroke="#d4001f" stroke-width="1.45"/>
<circle cx="321.5" cy="46.9" r="3.15" fill="#f0a0d8" fill-opacity="0.42" stroke="#d4001f" stroke-width="1.45"/>
<circle cx="321.5" cy="48.9" r="3.15" fill="#f0a0d8" fill-opacity="0.42" stroke="#d4001f" stroke-width="1.45"/>
<circle cx="321.5" cy="50.8" r="3.15" fill="#f0a0d8" fill-opacity="0.42" stroke="#d4001f" stroke-width="1.45"/>
<circle cx="321.5" cy="52.7" r="3.15" fill="#f0a0d8" fill-opacity="0.42" stroke="#d4001f" stroke-width="1.45"/>
<circle cx="321.5" cy="54.6" r="3.15" fill="#f0a0d8" fill-opacity="0.42" stroke="#d4001f" stroke-width="1.45"/>
<circle cx="321.5" cy="56.6" r="3.15" fill="#f0a0d8" fill-opacity="0.42" stroke="#d4001f" stroke-width="1.45"/>
<circle cx="321.5" cy="58.5" r="3.15" fill="#f0a0d8" fill-opacity="0.42" stroke="#d4001f" stroke-width="1.45"/>
<circle cx="321.5" cy="60.4" r="3.15" fill="#f0a0d8" fill-opacity="0.42" stroke="#d4001f" stroke-width="1.45"/>
<circle cx="321.5" cy="62.4" r="3.15" fill="#f0a0d8" fill-opacity="0.42" stroke="#d4001f" stroke-width="1.45"/>
<circle cx="321.5" cy="64.3" r="3.15" fill="#f0a0d8" fill-opacity="0.42" stroke="#d4001f" stroke-width="1.45"/>
<circle cx="321.5" cy="91.1" r="3.15" fill="#f0a0d8" fill-opacity="0.42" stroke="#d4001f" stroke-width="1.45"/>
<circle cx="380.5" cy="28.8" r="3.15" fill="#f0a0d8" fill-opacity="0.42" stroke="#d4001f" stroke-width="1.45"/>
<circle cx="380.5" cy="36.6" r="3.15" fill="#f0a0d8" fill-opacity="0.42" stroke="#d4001f" stroke-width="1.45"/>
<circle cx="380.5" cy="47.9" r="3.15" fill="#f0a0d8" fill-opacity="0.42" stroke="#d4001f" stroke-width="1.45"/>
<circle cx="380.5" cy="51.4" r="3.15" fill="#f0a0d8" fill-opacity="0.42" stroke="#d4001f" stroke-width="1.45"/>
<circle cx="380.5" cy="54.8" r="3.15" fill="#f0a0d8" fill-opacity="0.42" stroke="#d4001f" stroke-width="1.45"/>
<circle cx="380.5" cy="58.3" r="3.15" fill="#f0a0d8" fill-opacity="0.42" stroke="#d4001f" stroke-width="1.45"/>
<path d="M288.0,19.8 L288.0,141.4 L494.6,141.4" fill="none" stroke="#000" stroke-width="1.7" stroke-linecap="butt" stroke-linejoin="miter"/>
<line x1="296.0" y1="141.4" x2="296.0" y2="145.6" stroke="#000" stroke-width="1.6"/>
<text opacity="0.99" x="295.5" y="156.7" font-size="10.4" text-anchor="middle" font-weight="normal" fill="#111" textLength="5.2" lengthAdjust="spacingAndGlyphs" stroke="#111" stroke-width="0.3">0</text>
<line x1="338.5" y1="141.4" x2="338.5" y2="145.6" stroke="#000" stroke-width="1.6"/>
<text opacity="0.99" x="338.0" y="156.7" font-size="10.4" text-anchor="middle" font-weight="normal" fill="#111" textLength="5.2" lengthAdjust="spacingAndGlyphs" stroke="#111" stroke-width="0.3">5</text>
<line x1="381.0" y1="141.4" x2="381.0" y2="145.6" stroke="#000" stroke-width="1.6"/>
<text opacity="0.99" x="379.8" y="156.7" font-size="10.4" text-anchor="middle" font-weight="normal" fill="#111" textLength="10.4" lengthAdjust="spacingAndGlyphs" stroke="#111" stroke-width="0.3">10</text>
<line x1="423.5" y1="141.4" x2="423.5" y2="145.6" stroke="#000" stroke-width="1.6"/>
<text opacity="0.99" x="422.3" y="156.7" font-size="10.4" text-anchor="middle" font-weight="normal" fill="#111" textLength="10.4" lengthAdjust="spacingAndGlyphs" stroke="#111" stroke-width="0.3">15</text>
<line x1="466.0" y1="141.4" x2="466.0" y2="145.6" stroke="#000" stroke-width="1.6"/>
<text opacity="0.99" x="464.8" y="156.7" font-size="10.4" text-anchor="middle" font-weight="normal" fill="#111" textLength="10.4" lengthAdjust="spacingAndGlyphs" stroke="#111" stroke-width="0.3">20</text>
<line x1="283.5" y1="121.25" x2="288.0" y2="121.25" stroke="#000" stroke-width="1.6"/>
<text opacity="0.99" x="281.5" y="125.55" font-size="10.4" text-anchor="end" font-weight="normal" fill="#111" textLength="5.2" lengthAdjust="spacingAndGlyphs" stroke="#111" stroke-width="0.3">2</text>
<line x1="283.5" y1="88.75" x2="288.0" y2="88.75" stroke="#000" stroke-width="1.6"/>
<text opacity="0.99" x="281.5" y="93.05" font-size="10.4" text-anchor="end" font-weight="normal" fill="#111" textLength="5.2" lengthAdjust="spacingAndGlyphs" stroke="#111" stroke-width="0.3">4</text>
<line x1="283.5" y1="56.25" x2="288.0" y2="56.25" stroke="#000" stroke-width="1.6"/>
<text opacity="0.99" x="281.5" y="60.55" font-size="10.4" text-anchor="end" font-weight="normal" fill="#111" textLength="5.2" lengthAdjust="spacingAndGlyphs" stroke="#111" stroke-width="0.3">6</text>
<line x1="283.5" y1="23.75" x2="288.0" y2="23.75" stroke="#000" stroke-width="1.6"/>
<text opacity="0.99" x="281.5" y="28.05" font-size="10.4" text-anchor="end" font-weight="normal" fill="#111" textLength="5.2" lengthAdjust="spacingAndGlyphs" stroke="#111" stroke-width="0.3">8</text>
<text opacity="0.99" x="391" y="174.2" font-size="11.5" text-anchor="middle" font-weight="normal" fill="#111" textLength="90" lengthAdjust="spacingAndGlyphs" stroke="#111" stroke-width="0.65">Follow-up / Age (years)</text>
<text opacity="0.99" x="269.4" y="81.0" font-size="11.5" text-anchor="middle" font-weight="normal" fill="#111" textLength="40" lengthAdjust="spacingAndGlyphs" transform="rotate(-90 269.4 81.0)" stroke="#111" stroke-width="0.7">OPG (NPX)</text>
<line x1="463.5" y1="25.0" x2="475.9" y2="25.0" stroke="#d4001f" stroke-width="1.4"/>
<circle cx="469.7" cy="25.0" r="3.15" fill="#f0a0d8" fill-opacity="0.22" stroke="#d4001f" stroke-width="1.45"/>
<text opacity="0.99" x="481.2" y="28.2" font-size="10.3" text-anchor="start" font-weight="normal" fill="#111" textLength="20.3" lengthAdjust="spacingAndGlyphs" stroke="#111" stroke-width="0.3">MPS</text>
<line x1="463.5" y1="41.6" x2="475.9" y2="41.6" stroke="#0b2fae" stroke-width="1.4"/>
<circle cx="469.7" cy="41.6" r="3.15" fill="#80d8e0" fill-opacity="0.22" stroke="#0b2fae" stroke-width="1.45"/>
<text opacity="0.99" x="481.2" y="44.800000000000004" font-size="10.3" text-anchor="start" font-weight="normal" fill="#111" textLength="34.2" lengthAdjust="spacingAndGlyphs" stroke="#111" stroke-width="0.3">Controls</text>
<path d="M45.0,270.0 C47.5,269.5 54.2,268.0 60.0,267.0 C65.8,266.0 73.3,265.2 80.0,264.0 C86.7,262.8 93.3,262.0 100.0,260.0 C106.7,258.0 115.0,254.6 120.0,252.0 C125.0,249.4 125.0,246.6 130.0,244.5 C135.0,242.4 143.0,240.7 150.0,239.5 C157.0,238.3 165.3,238.3 172.0,237.3 C178.7,236.3 184.3,235.1 190.0,233.5 C195.7,231.9 203.3,228.5 206.0,227.5 L206.0,284.4 C203.3,282.0 195.7,273.5 190.0,270.0 C184.3,266.5 177.0,264.1 172.0,263.3 C167.0,262.5 165.3,263.1 160.0,265.0 C154.7,266.9 146.7,271.7 140.0,275.0 C133.3,278.3 126.7,282.2 120.0,285.0 C113.3,287.8 106.7,290.4 100.0,292.0 C93.3,293.6 86.3,294.5 80.0,294.8 C73.7,295.1 67.8,294.5 62.0,294.0 C56.2,293.5 47.8,292.3 45.0,292.0 Z" fill="#c3e6ec"/>
<polygon points="45.0,223.0 70.6,220.5 129.5,213.5 129.5,231.5 70.6,225.5 45.0,226.5" fill="#f5bde2"/>
<polyline points="70.6,224.0 129.5,225.5" fill="none" stroke="#e47cbc" stroke-width="1.0" opacity="0.8"/>
<polyline points="70.6,228.0 129.5,229.0" fill="none" stroke="#e47cbc" stroke-width="1.0" opacity="0.8"/>
<polyline points="70.6,232.0 129.5,231.0" fill="none" stroke="#e47cbc" stroke-width="1.0" opacity="0.8"/>
<polyline points="70.6,236.0 129.5,235.0" fill="none" stroke="#e47cbc" stroke-width="1.0" opacity="0.8"/>
<polyline points="70.6,240.0 129.5,238.0" fill="none" stroke="#e47cbc" stroke-width="1.0" opacity="0.8"/>
<polyline points="70.6,233.0 129.5,254.2" fill="none" stroke="#e47cbc" stroke-width="1.0" opacity="0.8"/>
<polyline points="45.0,205.0 53.8,205.0 70.6,200.0" fill="none" stroke="#e47cbc" stroke-width="1.0" opacity="0.8"/>
<polyline points="45.0,225.0 53.8,240.0 70.6,213.0" fill="none" stroke="#e47cbc" stroke-width="1.0" opacity="0.8"/>
<polyline points="45.0,230.0 53.8,210.0 70.6,230.0" fill="none" stroke="#e47cbc" stroke-width="1.0" opacity="0.8"/>
<polyline points="45.0,236.0 53.8,222.0 70.6,257.0" fill="none" stroke="#e47cbc" stroke-width="1.0" opacity="0.8"/>
<polyline points="45.0,210.0 53.8,245.0 70.6,225.0" fill="none" stroke="#e47cbc" stroke-width="1.0" opacity="0.8"/>
<polyline points="45.0,218.0 53.8,236.0 70.6,238.0" fill="none" stroke="#e47cbc" stroke-width="1.0" opacity="0.8"/>
<polyline points="45.0,261.0 53.8,228.0 70.6,242.0" fill="none" stroke="#e47cbc" stroke-width="1.0" opacity="0.8"/>
<polyline points="45.0,269.0 53.8,258.0 70.6,253.0 88.0,247.0" fill="none" stroke="#e47cbc" stroke-width="1.0" opacity="0.8"/>
<polyline points="45.0,224.5 129.5,223.0" fill="none" stroke="#d4001f" stroke-width="1.4"/>
<path d="M45.0,273.7 C47.7,274.6 55.2,277.9 61.0,279.0 C66.8,280.1 73.5,280.6 80.0,280.4 C86.5,280.1 93.3,279.7 100.0,277.5 C106.7,275.3 113.3,270.5 120.0,267.0 C126.7,263.5 134.2,258.8 140.0,256.3 C145.8,253.8 149.7,253.1 155.0,252.0 C160.3,250.9 166.2,250.1 172.0,250.0 C177.8,249.9 184.3,250.2 190.0,251.2 C195.7,252.3 203.3,255.4 206.0,256.2" fill="none" stroke="#0b2fae" stroke-width="1.5"/>
<circle cx="45.0" cy="258.0" r="3.15" fill="#80d8e0" fill-opacity="0.42" stroke="#0b2fae" stroke-width="1.45"/>
<circle cx="45.0" cy="266.2" r="3.15" fill="#80d8e0" fill-opacity="0.42" stroke="#0b2fae" stroke-width="1.45"/>
<circle cx="45.0" cy="299.3" r="3.15" fill="#80d8e0" fill-opacity="0.42" stroke="#0b2fae" stroke-width="1.45"/>
<circle cx="53.5" cy="254.0" r="3.15" fill="#80d8e0" fill-opacity="0.42" stroke="#0b2fae" stroke-width="1.45"/>
<circle cx="53.5" cy="267.2" r="3.15" fill="#80d8e0" fill-opacity="0.42" stroke="#0b2fae" stroke-width="1.45"/>
<circle cx="53.5" cy="307.0" r="3.15" fill="#80d8e0" fill-opacity="0.42" stroke="#0b2fae" stroke-width="1.45"/>
<circle cx="61.5" cy="279.0" r="3.15" fill="#80d8e0" fill-opacity="0.42" stroke="#0b2fae" stroke-width="1.45"/>
<circle cx="61.5" cy="293.7" r="3.15" fill="#80d8e0" fill-opacity="0.42" stroke="#0b2fae" stroke-width="1.45"/>
<circle cx="70.0" cy="273.5" r="3.15" fill="#80d8e0" fill-opacity="0.42" stroke="#0b2fae" stroke-width="1.45"/>
<circle cx="70.0" cy="275.6" r="3.15" fill="#80d8e0" fill-opacity="0.42" stroke="#0b2fae" stroke-width="1.45"/>
<circle cx="78.7" cy="308.1" r="3.15" fill="#80d8e0" fill-opacity="0.42" stroke="#0b2fae" stroke-width="1.45"/>
<circle cx="87.5" cy="258.5" r="3.15" fill="#80d8e0" fill-opacity="0.42" stroke="#0b2fae" stroke-width="1.45"/>
<circle cx="104.5" cy="272.9" r="3.15" fill="#80d8e0" fill-opacity="0.42" stroke="#0b2fae" stroke-width="1.45"/>
<circle cx="121.2" cy="273.8" r="3.15" fill="#80d8e0" fill-opacity="0.42" stroke="#0b2fae" stroke-width="1.45"/>
<circle cx="121.2" cy="245.5" r="3.15" fill="#80d8e0" fill-opacity="0.42" stroke="#0b2fae" stroke-width="1.45"/>
<circle cx="129.5" cy="243.8" r="3.15" fill="#80d8e0" fill-opacity="0.42" stroke="#0b2fae" stroke-width="1.45"/>
<circle cx="138.0" cy="258.2" r="3.15" fill="#80d8e0" fill-opacity="0.42" stroke="#0b2fae" stroke-width="1.45"/>
<circle cx="138.0" cy="273.8" r="3.15" fill="#80d8e0" fill-opacity="0.42" stroke="#0b2fae" stroke-width="1.45"/>
<circle cx="138.0" cy="284.2" r="3.15" fill="#80d8e0" fill-opacity="0.42" stroke="#0b2fae" stroke-width="1.45"/>
<circle cx="146.2" cy="244.5" r="3.15" fill="#80d8e0" fill-opacity="0.42" stroke="#0b2fae" stroke-width="1.45"/>
<circle cx="146.2" cy="269.5" r="3.15" fill="#80d8e0" fill-opacity="0.42" stroke="#0b2fae" stroke-width="1.45"/>
<circle cx="155.0" cy="211.2" r="3.15" fill="#80d8e0" fill-opacity="0.42" stroke="#0b2fae" stroke-width="1.45"/>
<circle cx="163.8" cy="254.2" r="3.15" fill="#80d8e0" fill-opacity="0.42" stroke="#0b2fae" stroke-width="1.45"/>
<circle cx="172.0" cy="239.5" r="3.15" fill="#80d8e0" fill-opacity="0.42" stroke="#0b2fae" stroke-width="1.45"/>
<circle cx="180.5" cy="255.0" r="3.15" fill="#80d8e0" fill-opacity="0.42" stroke="#0b2fae" stroke-width="1.45"/>
<circle cx="188.2" cy="248.8" r="3.15" fill="#80d8e0" fill-opacity="0.42" stroke="#0b2fae" stroke-width="1.45"/>
<circle cx="189.5" cy="270.8" r="3.15" fill="#80d8e0" fill-opacity="0.42" stroke="#0b2fae" stroke-width="1.45"/>
<circle cx="206.2" cy="248.8" r="3.15" fill="#80d8e0" fill-opacity="0.42" stroke="#0b2fae" stroke-width="1.45"/>
<circle cx="45.0" cy="200.0" r="3.15" fill="#f0a0d8" fill-opacity="0.42" stroke="#d4001f" stroke-width="1.45"/>
<circle cx="45.0" cy="203.0" r="3.15" fill="#f0a0d8" fill-opacity="0.42" stroke="#d4001f" stroke-width="1.45"/>
<circle cx="45.0" cy="206.0" r="3.15" fill="#f0a0d8" fill-opacity="0.42" stroke="#d4001f" stroke-width="1.45"/>
<circle cx="45.0" cy="209.0" r="3.15" fill="#f0a0d8" fill-opacity="0.42" stroke="#d4001f" stroke-width="1.45"/>
<circle cx="45.0" cy="212.0" r="3.15" fill="#f0a0d8" fill-opacity="0.42" stroke="#d4001f" stroke-width="1.45"/>
<circle cx="45.0" cy="218.6" r="3.15" fill="#f0a0d8" fill-opacity="0.42" stroke="#d4001f" stroke-width="1.45"/>
<circle cx="45.0" cy="221.2" r="3.15" fill="#f0a0d8" fill-opacity="0.42" stroke="#d4001f" stroke-width="1.45"/>
<circle cx="45.0" cy="223.7" r="3.15" fill="#f0a0d8" fill-opacity="0.42" stroke="#d4001f" stroke-width="1.45"/>
<circle cx="45.0" cy="226.2" r="3.15" fill="#f0a0d8" fill-opacity="0.42" stroke="#d4001f" stroke-width="1.45"/>
<circle cx="45.0" cy="228.8" r="3.15" fill="#f0a0d8" fill-opacity="0.42" stroke="#d4001f" stroke-width="1.45"/>
<circle cx="45.0" cy="231.3" r="3.15" fill="#f0a0d8" fill-opacity="0.42" stroke="#d4001f" stroke-width="1.45"/>
<circle cx="45.0" cy="233.9" r="3.15" fill="#f0a0d8" fill-opacity="0.42" stroke="#d4001f" stroke-width="1.45"/>
<circle cx="45.0" cy="236.4" r="3.15" fill="#f0a0d8" fill-opacity="0.42" stroke="#d4001f" stroke-width="1.45"/>
<circle cx="45.0" cy="239.0" r="3.15" fill="#f0a0d8" fill-opacity="0.42" stroke="#d4001f" stroke-width="1.45"/>
<circle cx="45.0" cy="261.0" r="3.15" fill="#f0a0d8" fill-opacity="0.42" stroke="#d4001f" stroke-width="1.45"/>
<circle cx="45.0" cy="269.0" r="3.15" fill="#f0a0d8" fill-opacity="0.42" stroke="#d4001f" stroke-width="1.45"/>
<circle cx="45.0" cy="299.3" r="3.15" fill="#f0a0d8" fill-opacity="0.42" stroke="#d4001f" stroke-width="1.45"/>
<circle cx="53.8" cy="196.4" r="3.15" fill="#f0a0d8" fill-opacity="0.42" stroke="#d4001f" stroke-width="1.45"/>
<circle cx="53.8" cy="199.8" r="3.15" fill="#f0a0d8" fill-opacity="0.42" stroke="#d4001f" stroke-width="1.45"/>
<circle cx="53.8" cy="203.2" r="3.15" fill="#f0a0d8" fill-opacity="0.42" stroke="#d4001f" stroke-width="1.45"/>
<circle cx="53.8" cy="206.6" r="3.15" fill="#f0a0d8" fill-opacity="0.42" stroke="#d4001f" stroke-width="1.45"/>
<circle cx="53.8" cy="211.8" r="3.15" fill="#f0a0d8" fill-opacity="0.42" stroke="#d4001f" stroke-width="1.45"/>
<circle cx="53.8" cy="219.6" r="3.15" fill="#f0a0d8" fill-opacity="0.42" stroke="#d4001f" stroke-width="1.45"/>
<circle cx="53.8" cy="222.6" r="3.15" fill="#f0a0d8" fill-opacity="0.42" stroke="#d4001f" stroke-width="1.45"/>
<circle cx="53.8" cy="225.5" r="3.15" fill="#f0a0d8" fill-opacity="0.42" stroke="#d4001f" stroke-width="1.45"/>
<circle cx="53.8" cy="228.5" r="3.15" fill="#f0a0d8" fill-opacity="0.42" stroke="#d4001f" stroke-width="1.45"/>
<circle cx="53.8" cy="231.5" r="3.15" fill="#f0a0d8" fill-opacity="0.42" stroke="#d4001f" stroke-width="1.45"/>
<circle cx="53.8" cy="234.4" r="3.15" fill="#f0a0d8" fill-opacity="0.42" stroke="#d4001f" stroke-width="1.45"/>
<circle cx="53.8" cy="237.4" r="3.15" fill="#f0a0d8" fill-opacity="0.42" stroke="#d4001f" stroke-width="1.45"/>
<circle cx="53.8" cy="240.4" r="3.15" fill="#f0a0d8" fill-opacity="0.42" stroke="#d4001f" stroke-width="1.45"/>
<circle cx="53.8" cy="243.4" r="3.15" fill="#f0a0d8" fill-opacity="0.42" stroke="#d4001f" stroke-width="1.45"/>
<circle cx="53.8" cy="246.3" r="3.15" fill="#f0a0d8" fill-opacity="0.42" stroke="#d4001f" stroke-width="1.45"/>
<circle cx="53.8" cy="249.3" r="3.15" fill="#f0a0d8" fill-opacity="0.42" stroke="#d4001f" stroke-width="1.45"/>
<circle cx="53.8" cy="253.5" r="3.15" fill="#f0a0d8" fill-opacity="0.42" stroke="#d4001f" stroke-width="1.45"/>
<circle cx="70.6" cy="199.0" r="3.15" fill="#f0a0d8" fill-opacity="0.42" stroke="#d4001f" stroke-width="1.45"/>
<circle cx="70.6" cy="203.0" r="3.15" fill="#f0a0d8" fill-opacity="0.42" stroke="#d4001f" stroke-width="1.45"/>
<circle cx="70.6" cy="210.0" r="3.15" fill="#f0a0d8" fill-opacity="0.42" stroke="#d4001f" stroke-width="1.45"/>
<circle cx="70.6" cy="213.2" r="3.15" fill="#f0a0d8" fill-opacity="0.42" stroke="#d4001f" stroke-width="1.45"/>
<circle cx="70.6" cy="221.0" r="3.15" fill="#f0a0d8" fill-opacity="0.42" stroke="#d4001f" stroke-width="1.45"/>
<circle cx="70.6" cy="223.7" r="3.15" fill="#f0a0d8" fill-opacity="0.42" stroke="#d4001f" stroke-width="1.45"/>
<circle cx="70.6" cy="226.5" r="3.15" fill="#f0a0d8" fill-opacity="0.42" stroke="#d4001f" stroke-width="1.45"/>
<circle cx="70.6" cy="229.2" r="3.15" fill="#f0a0d8" fill-opacity="0.42" stroke="#d4001f" stroke-width="1.45"/>
<circle cx="70.6" cy="231.9" r="3.15" fill="#f0a0d8" fill-opacity="0.42" stroke="#d4001f" stroke-width="1.45"/>
<circle cx="70.6" cy="234.7" r="3.15" fill="#f0a0d8" fill-opacity="0.42" stroke="#d4001f" stroke-width="1.45"/>
<circle cx="70.6" cy="237.4" r="3.15" fill="#f0a0d8" fill-opacity="0.42" stroke="#d4001f" stroke-width="1.45"/>
<circle cx="70.6" cy="240.2" r="3.15" fill="#f0a0d8" fill-opacity="0.42" stroke="#d4001f" stroke-width="1.45"/>
<circle cx="70.6" cy="242.9" r="3.15" fill="#f0a0d8" fill-opacity="0.42" stroke="#d4001f" stroke-width="1.45"/>
<circle cx="129.5" cy="198.1" r="3.15" fill="#f0a0d8" fill-opacity="0.42" stroke="#d4001f" stroke-width="1.45"/>
<circle cx="129.5" cy="207.8" r="3.15" fill="#f0a0d8" fill-opacity="0.42" stroke="#d4001f" stroke-width="1.45"/>
<circle cx="129.5" cy="213.1" r="3.15" fill="#f0a0d8" fill-opacity="0.42" stroke="#d4001f" stroke-width="1.45"/>
<circle cx="129.5" cy="225.3" r="3.15" fill="#f0a0d8" fill-opacity="0.42" stroke="#d4001f" stroke-width="1.45"/>
<circle cx="129.5" cy="228.8" r="3.15" fill="#f0a0d8" fill-opacity="0.42" stroke="#d4001f" stroke-width="1.45"/>
<circle cx="129.5" cy="232.2" r="3.15" fill="#f0a0d8" fill-opacity="0.42" stroke="#d4001f" stroke-width="1.45"/>
<circle cx="129.5" cy="235.7" r="3.15" fill="#f0a0d8" fill-opacity="0.42" stroke="#d4001f" stroke-width="1.45"/>
<circle cx="129.5" cy="239.1" r="3.15" fill="#f0a0d8" fill-opacity="0.42" stroke="#d4001f" stroke-width="1.45"/>
<circle cx="129.5" cy="254.2" r="3.15" fill="#f0a0d8" fill-opacity="0.42" stroke="#d4001f" stroke-width="1.45"/>
<path d="M37.0,191.25 L37.0,313.75 L243.5,313.75" fill="none" stroke="#000" stroke-width="1.7" stroke-linecap="butt" stroke-linejoin="miter"/>
<line x1="44.2" y1="313.75" x2="44.2" y2="317.95" stroke="#000" stroke-width="1.6"/>
<text opacity="0.99" x="43.7" y="329.1" font-size="10.4" text-anchor="middle" font-weight="normal" fill="#111" textLength="5.2" lengthAdjust="spacingAndGlyphs" stroke="#111" stroke-width="0.3">0</text>
<line x1="86.7" y1="313.75" x2="86.7" y2="317.95" stroke="#000" stroke-width="1.6"/>
<text opacity="0.99" x="86.2" y="329.1" font-size="10.4" text-anchor="middle" font-weight="normal" fill="#111" textLength="5.2" lengthAdjust="spacingAndGlyphs" stroke="#111" stroke-width="0.3">5</text>
<line x1="129.2" y1="313.75" x2="129.2" y2="317.95" stroke="#000" stroke-width="1.6"/>
<text opacity="0.99" x="128.0" y="329.1" font-size="10.4" text-anchor="middle" font-weight="normal" fill="#111" textLength="10.4" lengthAdjust="spacingAndGlyphs" stroke="#111" stroke-width="0.3">10</text>
<line x1="171.7" y1="313.75" x2="171.7" y2="317.95" stroke="#000" stroke-width="1.6"/>
<text opacity="0.99" x="170.5" y="329.1" font-size="10.4" text-anchor="middle" font-weight="normal" fill="#111" textLength="10.4" lengthAdjust="spacingAndGlyphs" stroke="#111" stroke-width="0.3">15</text>
<line x1="214.2" y1="313.75" x2="214.2" y2="317.95" stroke="#000" stroke-width="1.6"/>
<text opacity="0.99" x="213.0" y="329.1" font-size="10.4" text-anchor="middle" font-weight="normal" fill="#111" textLength="10.4" lengthAdjust="spacingAndGlyphs" stroke="#111" stroke-width="0.3">20</text>
<line x1="32.5" y1="307.0" x2="37.0" y2="307.0" stroke="#000" stroke-width="1.6"/>
<text opacity="0.99" x="30.5" y="311.3" font-size="10.4" text-anchor="end" font-weight="normal" fill="#111" textLength="5.2" lengthAdjust="spacingAndGlyphs" stroke="#111" stroke-width="0.3">0</text>
<line x1="32.5" y1="277.0" x2="37.0" y2="277.0" stroke="#000" stroke-width="1.6"/>
<text opacity="0.99" x="30.5" y="281.3" font-size="10.4" text-anchor="end" font-weight="normal" fill="#111" textLength="5.2" lengthAdjust="spacingAndGlyphs" stroke="#111" stroke-width="0.3">2</text>
<line x1="32.5" y1="246.9" x2="37.0" y2="246.9" stroke="#000" stroke-width="1.6"/>
<text opacity="0.99" x="30.5" y="251.2" font-size="10.4" text-anchor="end" font-weight="normal" fill="#111" textLength="5.2" lengthAdjust="spacingAndGlyphs" stroke="#111" stroke-width="0.3">4</text>
<line x1="32.5" y1="216.8" x2="37.0" y2="216.8" stroke="#000" stroke-width="1.6"/>
<text opacity="0.99" x="30.5" y="221.1" font-size="10.4" text-anchor="end" font-weight="normal" fill="#111" textLength="5.2" lengthAdjust="spacingAndGlyphs" stroke="#111" stroke-width="0.3">6</text>
<text opacity="0.99" x="140" y="346.4" font-size="11.5" text-anchor="middle" font-weight="normal" fill="#111" textLength="90" lengthAdjust="spacingAndGlyphs" stroke="#111" stroke-width="0.65">Follow-up / Age (years)</text>
<text opacity="0.99" x="17.7" y="252.7" font-size="11.5" text-anchor="middle" font-weight="normal" fill="#111" textLength="48.5" lengthAdjust="spacingAndGlyphs" transform="rotate(-90 17.7 252.7)" stroke="#111" stroke-width="0.7">AXIN1 (NPX)</text>
<line x1="191.3" y1="196.25" x2="203.7" y2="196.25" stroke="#d4001f" stroke-width="1.4"/>
<circle cx="197.5" cy="196.2" r="3.15" fill="#f0a0d8" fill-opacity="0.22" stroke="#d4001f" stroke-width="1.45"/>
<text opacity="0.99" x="209.2" y="199.45" font-size="10.3" text-anchor="start" font-weight="normal" fill="#111" textLength="19.6" lengthAdjust="spacingAndGlyphs" stroke="#111" stroke-width="0.3">MPS</text>
<line x1="191.3" y1="213.0" x2="203.7" y2="213.0" stroke="#0b2fae" stroke-width="1.4"/>
<circle cx="197.5" cy="213.0" r="3.15" fill="#80d8e0" fill-opacity="0.22" stroke="#0b2fae" stroke-width="1.45"/>
<text opacity="0.99" x="209.2" y="216.2" font-size="10.3" text-anchor="start" font-weight="normal" fill="#111" textLength="34.5" lengthAdjust="spacingAndGlyphs" stroke="#111" stroke-width="0.3">Controls</text>
<path d="M296.0,265.6 C300.2,264.5 312.3,262.0 321.0,259.0 C329.7,256.0 336.8,250.8 348.0,247.5 C359.2,244.2 379.3,241.0 388.0,239.0 C396.7,237.0 393.0,236.5 400.0,235.5 C407.0,234.5 422.5,233.7 430.0,233.0 C437.5,232.3 440.4,232.1 445.0,231.5 C449.6,230.9 455.4,229.6 457.5,229.2 L457.5,284.2 C455.4,281.5 449.6,271.9 445.0,268.0 C440.4,264.1 437.5,262.4 430.0,260.6 C422.5,258.8 408.3,256.6 400.0,257.0 C391.7,257.4 388.7,259.8 380.0,263.0 C371.3,266.2 357.8,272.8 348.0,276.4 C338.2,280.0 329.7,281.6 321.0,284.5 C312.3,287.4 300.2,292.3 296.0,293.9 Z" fill="#c3e6ec"/>
<polygon points="295.6,225.0 321.0,221.2 380.5,210.5 380.5,222.0 321.0,231.0 295.6,234.0" fill="#f5bde2"/>
<polyline points="321.3,209.0 380.5,210.0" fill="none" stroke="#e47cbc" stroke-width="1.0" opacity="0.8"/>
<polyline points="321.3,236.0 380.5,225.7" fill="none" stroke="#e47cbc" stroke-width="1.0" opacity="0.8"/>
<polyline points="321.3,240.0 380.5,229.7" fill="none" stroke="#e47cbc" stroke-width="1.0" opacity="0.8"/>
<polyline points="321.3,245.0 380.5,233.0" fill="none" stroke="#e47cbc" stroke-width="1.0" opacity="0.8"/>
<polyline points="321.3,243.0 380.5,222.0" fill="none" stroke="#e47cbc" stroke-width="1.0" opacity="0.8"/>
<polyline points="321.3,227.0 380.5,213.0" fill="none" stroke="#e47cbc" stroke-width="1.0" opacity="0.8"/>
<polyline points="321.3,231.0 380.5,218.0" fill="none" stroke="#e47cbc" stroke-width="1.0" opacity="0.8"/>
<polyline points="295.6,220.0 304.4,213.0 321.3,230.0" fill="none" stroke="#e47cbc" stroke-width="1.0" opacity="0.8"/>
<polyline points="295.6,226.0 304.4,235.0 321.3,212.0" fill="none" stroke="#e47cbc" stroke-width="1.0" opacity="0.8"/>
<polyline points="295.6,232.0 304.4,208.0 321.3,236.0" fill="none" stroke="#e47cbc" stroke-width="1.0" opacity="0.8"/>
<polyline points="295.6,238.0 304.4,222.0 321.3,245.0" fill="none" stroke="#e47cbc" stroke-width="1.0" opacity="0.8"/>
<polyline points="295.6,242.0 304.4,244.8 321.3,222.0" fill="none" stroke="#e47cbc" stroke-width="1.0" opacity="0.8"/>
<polyline points="295.6,247.6 304.4,218.0 321.3,250.0" fill="none" stroke="#e47cbc" stroke-width="1.0" opacity="0.8"/>
<polyline points="304.4,228.0 321.3,240.0" fill="none" stroke="#e47cbc" stroke-width="1.0" opacity="0.8"/>
<polyline points="295.6,247.6 295.6,261.0" fill="none" stroke="#e47cbc" stroke-width="1.0" opacity="0.8"/>
<polyline points="295.6,229.8 380.5,216.3" fill="none" stroke="#d4001f" stroke-width="1.4"/>
<path d="M295.6,277.0 C299.8,275.7 312.3,271.4 321.0,269.0 C329.7,266.6 338.2,265.5 348.0,262.9 C357.8,260.3 371.3,256.0 380.0,253.5 C388.7,251.0 394.3,249.4 400.0,248.0 C405.7,246.6 409.3,245.4 414.0,245.0 C418.7,244.6 423.7,244.9 428.0,245.5 C432.3,246.1 435.1,247.0 440.0,248.8 C444.9,250.6 454.6,255.0 457.5,256.2" fill="none" stroke="#0b2fae" stroke-width="1.5"/>
<circle cx="304.4" cy="241.0" r="3.15" fill="#80d8e0" fill-opacity="0.42" stroke="#0b2fae" stroke-width="1.45"/>
<circle cx="295.6" cy="260.0" r="3.15" fill="#80d8e0" fill-opacity="0.42" stroke="#0b2fae" stroke-width="1.45"/>
<circle cx="295.6" cy="308.0" r="3.15" fill="#80d8e0" fill-opacity="0.42" stroke="#0b2fae" stroke-width="1.45"/>
<circle cx="303.7" cy="300.6" r="3.15" fill="#80d8e0" fill-opacity="0.42" stroke="#0b2fae" stroke-width="1.45"/>
<circle cx="295.6" cy="277.0" r="3.15" fill="#80d8e0" fill-opacity="0.42" stroke="#0b2fae" stroke-width="1.45"/>
<circle cx="313.0" cy="287.2" r="3.15" fill="#80d8e0" fill-opacity="0.42" stroke="#0b2fae" stroke-width="1.45"/>
<circle cx="313.0" cy="263.6" r="3.15" fill="#80d8e0" fill-opacity="0.42" stroke="#0b2fae" stroke-width="1.45"/>
<circle cx="313.0" cy="267.6" r="3.15" fill="#80d8e0" fill-opacity="0.42" stroke="#0b2fae" stroke-width="1.45"/>
<circle cx="304.6" cy="258.9" r="3.15" fill="#80d8e0" fill-opacity="0.42" stroke="#0b2fae" stroke-width="1.45"/>
<circle cx="321.3" cy="258.9" r="3.15" fill="#80d8e0" fill-opacity="0.42" stroke="#0b2fae" stroke-width="1.45"/>
<circle cx="321.3" cy="272.3" r="3.15" fill="#80d8e0" fill-opacity="0.42" stroke="#0b2fae" stroke-width="1.45"/>
<circle cx="329.9" cy="281.8" r="3.15" fill="#80d8e0" fill-opacity="0.42" stroke="#0b2fae" stroke-width="1.45"/>
<circle cx="338.2" cy="254.2" r="3.15" fill="#80d8e0" fill-opacity="0.42" stroke="#0b2fae" stroke-width="1.45"/>
<circle cx="356.2" cy="267.7" r="3.15" fill="#80d8e0" fill-opacity="0.42" stroke="#0b2fae" stroke-width="1.45"/>
<circle cx="371.5" cy="247.1" r="3.15" fill="#80d8e0" fill-opacity="0.42" stroke="#0b2fae" stroke-width="1.45"/>
<circle cx="371.5" cy="261.5" r="3.15" fill="#80d8e0" fill-opacity="0.42" stroke="#0b2fae" stroke-width="1.45"/>
<circle cx="380.8" cy="237.3" r="3.15" fill="#80d8e0" fill-opacity="0.42" stroke="#0b2fae" stroke-width="1.45"/>
<circle cx="380.8" cy="243.1" r="3.15" fill="#80d8e0" fill-opacity="0.42" stroke="#0b2fae" stroke-width="1.45"/>
<circle cx="388.5" cy="242.2" r="3.15" fill="#80d8e0" fill-opacity="0.42" stroke="#0b2fae" stroke-width="1.45"/>
<circle cx="388.5" cy="288.3" r="3.15" fill="#80d8e0" fill-opacity="0.42" stroke="#0b2fae" stroke-width="1.45"/>
<circle cx="389.4" cy="254.8" r="3.15" fill="#80d8e0" fill-opacity="0.42" stroke="#0b2fae" stroke-width="1.45"/>
<circle cx="398.3" cy="244.0" r="3.15" fill="#80d8e0" fill-opacity="0.42" stroke="#0b2fae" stroke-width="1.45"/>
<circle cx="398.3" cy="253.8" r="3.15" fill="#80d8e0" fill-opacity="0.42" stroke="#0b2fae" stroke-width="1.45"/>
<circle cx="406.3" cy="207.7" r="3.15" fill="#80d8e0" fill-opacity="0.42" stroke="#0b2fae" stroke-width="1.45"/>
<circle cx="414.0" cy="245.3" r="3.15" fill="#80d8e0" fill-opacity="0.42" stroke="#0b2fae" stroke-width="1.45"/>
<circle cx="422.7" cy="247.3" r="3.15" fill="#80d8e0" fill-opacity="0.42" stroke="#0b2fae" stroke-width="1.45"/>
<circle cx="431.3" cy="237.7" r="3.15" fill="#80d8e0" fill-opacity="0.42" stroke="#0b2fae" stroke-width="1.45"/>
<circle cx="440.0" cy="240.6" r="3.15" fill="#80d8e0" fill-opacity="0.42" stroke="#0b2fae" stroke-width="1.45"/>
<circle cx="440.4" cy="273.3" r="3.15" fill="#80d8e0" fill-opacity="0.42" stroke="#0b2fae" stroke-width="1.45"/>
<circle cx="457.7" cy="253.8" r="3.15" fill="#80d8e0" fill-opacity="0.42" stroke="#0b2fae" stroke-width="1.45"/>
<circle cx="295.6" cy="220.0" r="3.15" fill="#f0a0d8" fill-opacity="0.42" stroke="#d4001f" stroke-width="1.45"/>
<circle cx="295.6" cy="222.8" r="3.15" fill="#f0a0d8" fill-opacity="0.42" stroke="#d4001f" stroke-width="1.45"/>
<circle cx="295.6" cy="225.5" r="3.15" fill="#f0a0d8" fill-opacity="0.42" stroke="#d4001f" stroke-width="1.45"/>
<circle cx="295.6" cy="228.2" r="3.15" fill="#f0a0d8" fill-opacity="0.42" stroke="#d4001f" stroke-width="1.45"/>
<circle cx="295.6" cy="231.0" r="3.15" fill="#f0a0d8" fill-opacity="0.42" stroke="#d4001f" stroke-width="1.45"/>
<circle cx="295.6" cy="233.8" r="3.15" fill="#f0a0d8" fill-opacity="0.42" stroke="#d4001f" stroke-width="1.45"/>
<circle cx="295.6" cy="236.5" r="3.15" fill="#f0a0d8" fill-opacity="0.42" stroke="#d4001f" stroke-width="1.45"/>
<circle cx="295.6" cy="239.2" r="3.15" fill="#f0a0d8" fill-opacity="0.42" stroke="#d4001f" stroke-width="1.45"/>
<circle cx="295.6" cy="242.0" r="3.15" fill="#f0a0d8" fill-opacity="0.42" stroke="#d4001f" stroke-width="1.45"/>
<circle cx="295.6" cy="247.6" r="3.15" fill="#f0a0d8" fill-opacity="0.42" stroke="#d4001f" stroke-width="1.45"/>
<circle cx="295.6" cy="261.0" r="3.15" fill="#f0a0d8" fill-opacity="0.42" stroke="#d4001f" stroke-width="1.45"/>
<circle cx="304.4" cy="207.3" r="3.15" fill="#f0a0d8" fill-opacity="0.42" stroke="#d4001f" stroke-width="1.45"/>
<circle cx="304.4" cy="213.0" r="3.15" fill="#f0a0d8" fill-opacity="0.42" stroke="#d4001f" stroke-width="1.45"/>
<circle cx="304.4" cy="215.8" r="3.15" fill="#f0a0d8" fill-opacity="0.42" stroke="#d4001f" stroke-width="1.45"/>
<circle cx="304.4" cy="218.6" r="3.15" fill="#f0a0d8" fill-opacity="0.42" stroke="#d4001f" stroke-width="1.45"/>
<circle cx="304.4" cy="221.3" r="3.15" fill="#f0a0d8" fill-opacity="0.42" stroke="#d4001f" stroke-width="1.45"/>
<circle cx="304.4" cy="224.1" r="3.15" fill="#f0a0d8" fill-opacity="0.42" stroke="#d4001f" stroke-width="1.45"/>
<circle cx="304.4" cy="226.9" r="3.15" fill="#f0a0d8" fill-opacity="0.42" stroke="#d4001f" stroke-width="1.45"/>
<circle cx="304.4" cy="229.6" r="3.15" fill="#f0a0d8" fill-opacity="0.42" stroke="#d4001f" stroke-width="1.45"/>
<circle cx="304.4" cy="232.4" r="3.15" fill="#f0a0d8" fill-opacity="0.42" stroke="#d4001f" stroke-width="1.45"/>
<circle cx="304.4" cy="235.2" r="3.15" fill="#f0a0d8" fill-opacity="0.42" stroke="#d4001f" stroke-width="1.45"/>
<circle cx="304.4" cy="240.2" r="3.15" fill="#f0a0d8" fill-opacity="0.42" stroke="#d4001f" stroke-width="1.45"/>
<circle cx="304.4" cy="244.8" r="3.15" fill="#f0a0d8" fill-opacity="0.42" stroke="#d4001f" stroke-width="1.45"/>
<circle cx="321.3" cy="196.6" r="3.15" fill="#f0a0d8" fill-opacity="0.42" stroke="#d4001f" stroke-width="1.45"/>
<circle cx="321.3" cy="198.3" r="3.15" fill="#f0a0d8" fill-opacity="0.42" stroke="#d4001f" stroke-width="1.45"/>
<circle cx="321.3" cy="209.2" r="3.15" fill="#f0a0d8" fill-opacity="0.42" stroke="#d4001f" stroke-width="1.45"/>
<circle cx="321.3" cy="213.1" r="3.15" fill="#f0a0d8" fill-opacity="0.42" stroke="#d4001f" stroke-width="1.45"/>
<circle cx="321.3" cy="217.0" r="3.15" fill="#f0a0d8" fill-opacity="0.42" stroke="#d4001f" stroke-width="1.45"/>
<circle cx="321.3" cy="221.0" r="3.15" fill="#f0a0d8" fill-opacity="0.42" stroke="#d4001f" stroke-width="1.45"/>
<circle cx="321.3" cy="224.9" r="3.15" fill="#f0a0d8" fill-opacity="0.42" stroke="#d4001f" stroke-width="1.45"/>
<circle cx="321.3" cy="228.8" r="3.15" fill="#f0a0d8" fill-opacity="0.42" stroke="#d4001f" stroke-width="1.45"/>
<circle cx="321.3" cy="232.7" r="3.15" fill="#f0a0d8" fill-opacity="0.42" stroke="#d4001f" stroke-width="1.45"/>
<circle cx="321.3" cy="236.6" r="3.15" fill="#f0a0d8" fill-opacity="0.42" stroke="#d4001f" stroke-width="1.45"/>
<circle cx="321.3" cy="240.5" r="3.15" fill="#f0a0d8" fill-opacity="0.42" stroke="#d4001f" stroke-width="1.45"/>
<circle cx="321.3" cy="244.5" r="3.15" fill="#f0a0d8" fill-opacity="0.42" stroke="#d4001f" stroke-width="1.45"/>
<circle cx="321.3" cy="248.4" r="3.15" fill="#f0a0d8" fill-opacity="0.42" stroke="#d4001f" stroke-width="1.45"/>
<circle cx="321.3" cy="252.3" r="3.15" fill="#f0a0d8" fill-opacity="0.42" stroke="#d4001f" stroke-width="1.45"/>
<circle cx="380.5" cy="202.4" r="3.15" fill="#f0a0d8" fill-opacity="0.42" stroke="#d4001f" stroke-width="1.45"/>
<circle cx="380.5" cy="205.1" r="3.15" fill="#f0a0d8" fill-opacity="0.42" stroke="#d4001f" stroke-width="1.45"/>
<circle cx="380.5" cy="207.8" r="3.15" fill="#f0a0d8" fill-opacity="0.42" stroke="#d4001f" stroke-width="1.45"/>
<circle cx="380.5" cy="210.5" r="3.15" fill="#f0a0d8" fill-opacity="0.42" stroke="#d4001f" stroke-width="1.45"/>
<circle cx="380.5" cy="213.2" r="3.15" fill="#f0a0d8" fill-opacity="0.42" stroke="#d4001f" stroke-width="1.45"/>
<circle cx="380.5" cy="215.9" r="3.15" fill="#f0a0d8" fill-opacity="0.42" stroke="#d4001f" stroke-width="1.45"/>
<circle cx="380.5" cy="224.6" r="3.15" fill="#f0a0d8" fill-opacity="0.42" stroke="#d4001f" stroke-width="1.45"/>
<circle cx="380.5" cy="228.6" r="3.15" fill="#f0a0d8" fill-opacity="0.42" stroke="#d4001f" stroke-width="1.45"/>
<circle cx="380.5" cy="232.7" r="3.15" fill="#f0a0d8" fill-opacity="0.42" stroke="#d4001f" stroke-width="1.45"/>
<path d="M288.0,191.25 L288.0,313.3 L494.6,313.3" fill="none" stroke="#000" stroke-width="1.7" stroke-linecap="butt" stroke-linejoin="miter"/>
<line x1="296.0" y1="313.3" x2="296.0" y2="317.5" stroke="#000" stroke-width="1.6"/>
<text opacity="0.99" x="295.5" y="328.5" font-size="10.4" text-anchor="middle" font-weight="normal" fill="#111" textLength="5.2" lengthAdjust="spacingAndGlyphs" stroke="#111" stroke-width="0.3">0</text>
<line x1="338.5" y1="313.3" x2="338.5" y2="317.5" stroke="#000" stroke-width="1.6"/>
<text opacity="0.99" x="338.0" y="328.5" font-size="10.4" text-anchor="middle" font-weight="normal" fill="#111" textLength="5.2" lengthAdjust="spacingAndGlyphs" stroke="#111" stroke-width="0.3">5</text>
<line x1="381.0" y1="313.3" x2="381.0" y2="317.5" stroke="#000" stroke-width="1.6"/>
<text opacity="0.99" x="379.8" y="328.5" font-size="10.4" text-anchor="middle" font-weight="normal" fill="#111" textLength="10.4" lengthAdjust="spacingAndGlyphs" stroke="#111" stroke-width="0.3">10</text>
<line x1="423.5" y1="313.3" x2="423.5" y2="317.5" stroke="#000" stroke-width="1.6"/>
<text opacity="0.99" x="422.3" y="328.5" font-size="10.4" text-anchor="middle" font-weight="normal" fill="#111" textLength="10.4" lengthAdjust="spacingAndGlyphs" stroke="#111" stroke-width="0.3">15</text>
<line x1="466.0" y1="313.3" x2="466.0" y2="317.5" stroke="#000" stroke-width="1.6"/>
<text opacity="0.99" x="464.8" y="328.5" font-size="10.4" text-anchor="middle" font-weight="normal" fill="#111" textLength="10.4" lengthAdjust="spacingAndGlyphs" stroke="#111" stroke-width="0.3">20</text>
<line x1="283.5" y1="305.8" x2="288.0" y2="305.8" stroke="#000" stroke-width="1.6"/>
<text opacity="0.99" x="281.1" y="310.1" font-size="10.4" text-anchor="end" font-weight="normal" fill="#111" textLength="5.2" lengthAdjust="spacingAndGlyphs" stroke="#111" stroke-width="0.3">0</text>
<line x1="283.5" y1="282.8" x2="288.0" y2="282.8" stroke="#000" stroke-width="1.6"/>
<text opacity="0.99" x="281.1" y="287.1" font-size="10.4" text-anchor="end" font-weight="normal" fill="#111" textLength="5.2" lengthAdjust="spacingAndGlyphs" stroke="#111" stroke-width="0.3">2</text>
<line x1="283.5" y1="252.6" x2="288.0" y2="252.6" stroke="#000" stroke-width="1.6"/>
<text opacity="0.99" x="281.1" y="256.9" font-size="10.4" text-anchor="end" font-weight="normal" fill="#111" textLength="5.2" lengthAdjust="spacingAndGlyphs" stroke="#111" stroke-width="0.3">4</text>
<line x1="283.5" y1="222.2" x2="288.0" y2="222.2" stroke="#000" stroke-width="1.6"/>
<text opacity="0.99" x="281.1" y="226.5" font-size="10.4" text-anchor="end" font-weight="normal" fill="#111" textLength="5.2" lengthAdjust="spacingAndGlyphs" stroke="#111" stroke-width="0.3">6</text>
<text opacity="0.99" x="391" y="345.8" font-size="11.5" text-anchor="middle" font-weight="normal" fill="#111" textLength="90" lengthAdjust="spacingAndGlyphs" stroke="#111" stroke-width="0.65">Follow-up / Age (years)</text>
<text opacity="0.99" x="269.7" y="253.0" font-size="11.5" text-anchor="middle" font-weight="normal" fill="#111" textLength="39" lengthAdjust="spacingAndGlyphs" transform="rotate(-90 269.7 253.0)" stroke="#111" stroke-width="0.7">SCF (NPX)</text>
<line x1="463.5" y1="196.1" x2="475.9" y2="196.1" stroke="#d4001f" stroke-width="1.4"/>
<circle cx="469.7" cy="196.1" r="3.15" fill="#f0a0d8" fill-opacity="0.22" stroke="#d4001f" stroke-width="1.45"/>
<text opacity="0.99" x="481.2" y="199.29999999999998" font-size="10.3" text-anchor="start" font-weight="normal" fill="#111" textLength="20.3" lengthAdjust="spacingAndGlyphs" stroke="#111" stroke-width="0.3">MPS</text>
<line x1="463.5" y1="213.2" x2="475.9" y2="213.2" stroke="#0b2fae" stroke-width="1.4"/>
<circle cx="469.7" cy="213.2" r="3.15" fill="#80d8e0" fill-opacity="0.22" stroke="#0b2fae" stroke-width="1.45"/>
<text opacity="0.99" x="481.2" y="216.39999999999998" font-size="10.3" text-anchor="start" font-weight="normal" fill="#111" textLength="34.2" lengthAdjust="spacingAndGlyphs" stroke="#111" stroke-width="0.3">Controls</text>
<path d="M44.5,449.2 C46.6,450.0 52.8,452.7 57.0,454.0 C61.2,455.3 64.5,457.6 70.0,457.0 C75.5,456.4 83.3,452.8 90.0,450.5 C96.7,448.2 104.8,444.8 110.0,443.0 C115.2,441.2 114.3,441.3 121.0,440.0 C127.7,438.7 141.0,436.4 150.0,435.4 C159.0,434.4 168.3,434.7 175.0,433.8 C181.7,432.9 184.8,432.0 190.0,430.0 C195.2,428.0 203.3,423.3 206.0,422.0 L206.0,465.0 C203.3,463.5 195.2,458.2 190.0,456.0 C184.8,453.8 180.0,452.1 175.0,451.5 C170.0,450.9 165.8,451.2 160.0,452.5 C154.2,453.8 146.5,457.2 140.0,459.5 C133.5,461.8 128.5,463.8 121.0,466.5 C113.5,469.2 103.5,474.3 95.0,475.5 C86.5,476.7 78.4,474.5 70.0,473.5 C61.6,472.5 48.8,470.2 44.5,469.5 Z" fill="#c3e6ec"/>
<polygon points="44.8,423.0 70.3,421.0 129.8,410.0 129.8,420.0 70.3,426.0 44.8,432.0" fill="#f5bde2"/>
<polyline points="70.3,406.6 129.8,411.0" fill="none" stroke="#e47cbc" stroke-width="1.0" opacity="0.8"/>
<polyline points="70.3,416.0 129.8,411.0" fill="none" stroke="#e47cbc" stroke-width="1.0" opacity="0.8"/>
<polyline points="70.3,420.0 129.8,414.0" fill="none" stroke="#e47cbc" stroke-width="1.0" opacity="0.8"/>
<polyline points="70.3,424.0 129.8,417.0" fill="none" stroke="#e47cbc" stroke-width="1.0" opacity="0.8"/>
<polyline points="70.3,428.0 129.8,420.0" fill="none" stroke="#e47cbc" stroke-width="1.0" opacity="0.8"/>
<polyline points="70.3,432.0 129.8,423.0" fill="none" stroke="#e47cbc" stroke-width="1.0" opacity="0.8"/>
<polyline points="70.3,436.0 129.8,426.0" fill="none" stroke="#e47cbc" stroke-width="1.0" opacity="0.8"/>
<polyline points="44.8,424.0 53.5,414.0 70.3,432.0" fill="none" stroke="#e47cbc" stroke-width="1.0" opacity="0.8"/>
<polyline points="44.8,430.0 53.5,440.0 70.3,416.0" fill="none" stroke="#e47cbc" stroke-width="1.0" opacity="0.8"/>
<polyline points="44.8,436.0 53.5,420.0 70.3,436.0" fill="none" stroke="#e47cbc" stroke-width="1.0" opacity="0.8"/>
<polyline points="44.8,440.0 53.5,430.0 70.3,422.0" fill="none" stroke="#e47cbc" stroke-width="1.0" opacity="0.8"/>
<polyline points="44.8,444.0 53.5,412.0 70.3,428.0" fill="none" stroke="#e47cbc" stroke-width="1.0" opacity="0.8"/>
<polyline points="44.8,412.0 53.5,436.0 70.3,407.0" fill="none" stroke="#e47cbc" stroke-width="1.0" opacity="0.8"/>
<polyline points="53.5,442.0 70.3,464.8" fill="none" stroke="#e47cbc" stroke-width="1.0" opacity="0.8"/>
<polyline points="44.8,420.0 53.5,425.0 70.3,437.0" fill="none" stroke="#e47cbc" stroke-width="1.0" opacity="0.8"/>
<polyline points="44.8,427.4 129.8,414.7" fill="none" stroke="#d4001f" stroke-width="1.4"/>
<path d="M44.5,464.6 C46.6,464.7 52.8,465.1 57.0,465.3 C61.2,465.5 65.3,465.9 70.0,465.6 C74.7,465.3 79.3,464.9 85.0,463.5 C90.7,462.1 98.0,458.8 104.0,456.9 C110.0,455.0 115.3,454.0 121.0,452.3 C126.7,450.6 132.3,448.4 138.0,446.9 C143.7,445.3 148.8,443.8 155.0,443.0 C161.2,442.2 169.2,442.4 175.0,442.3 C180.8,442.2 184.8,442.3 190.0,442.5 C195.2,442.7 203.3,443.1 206.0,443.2" fill="none" stroke="#0b2fae" stroke-width="1.5"/>
<circle cx="44.5" cy="464.6" r="3.15" fill="#80d8e0" fill-opacity="0.42" stroke="#0b2fae" stroke-width="1.45"/>
<circle cx="44.5" cy="471.5" r="3.15" fill="#80d8e0" fill-opacity="0.42" stroke="#0b2fae" stroke-width="1.45"/>
<circle cx="53.5" cy="454.3" r="3.15" fill="#80d8e0" fill-opacity="0.42" stroke="#0b2fae" stroke-width="1.45"/>
<circle cx="53.5" cy="466.0" r="3.15" fill="#80d8e0" fill-opacity="0.42" stroke="#0b2fae" stroke-width="1.45"/>
<circle cx="53.5" cy="477.1" r="3.15" fill="#80d8e0" fill-opacity="0.42" stroke="#0b2fae" stroke-width="1.45"/>
<circle cx="61.9" cy="462.7" r="3.15" fill="#80d8e0" fill-opacity="0.42" stroke="#0b2fae" stroke-width="1.45"/>
<circle cx="61.9" cy="479.8" r="3.15" fill="#80d8e0" fill-opacity="0.42" stroke="#0b2fae" stroke-width="1.45"/>
<circle cx="70.4" cy="455.3" r="3.15" fill="#80d8e0" fill-opacity="0.42" stroke="#0b2fae" stroke-width="1.45"/>
<circle cx="70.4" cy="469.6" r="3.15" fill="#80d8e0" fill-opacity="0.42" stroke="#0b2fae" stroke-width="1.45"/>
<circle cx="78.5" cy="483.0" r="3.15" fill="#80d8e0" fill-opacity="0.42" stroke="#0b2fae" stroke-width="1.45"/>
<circle cx="87.0" cy="446.6" r="3.15" fill="#80d8e0" fill-opacity="0.42" stroke="#0b2fae" stroke-width="1.45"/>
<circle cx="103.8" cy="457.5" r="3.15" fill="#80d8e0" fill-opacity="0.42" stroke="#0b2fae" stroke-width="1.45"/>
<circle cx="121.2" cy="437.5" r="3.15" fill="#80d8e0" fill-opacity="0.42" stroke="#0b2fae" stroke-width="1.45"/>
<circle cx="121.2" cy="456.2" r="3.15" fill="#80d8e0" fill-opacity="0.42" stroke="#0b2fae" stroke-width="1.45"/>
<circle cx="129.5" cy="425.9" r="3.15" fill="#80d8e0" fill-opacity="0.42" stroke="#0b2fae" stroke-width="1.45"/>
<circle cx="129.5" cy="440.0" r="3.15" fill="#80d8e0" fill-opacity="0.42" stroke="#0b2fae" stroke-width="1.45"/>
<circle cx="138.0" cy="446.8" r="3.15" fill="#80d8e0" fill-opacity="0.42" stroke="#0b2fae" stroke-width="1.45"/>
<circle cx="138.0" cy="453.2" r="3.15" fill="#80d8e0" fill-opacity="0.42" stroke="#0b2fae" stroke-width="1.45"/>
<circle cx="138.0" cy="477.5" r="3.15" fill="#80d8e0" fill-opacity="0.42" stroke="#0b2fae" stroke-width="1.45"/>
<circle cx="146.2" cy="435.8" r="3.15" fill="#80d8e0" fill-opacity="0.42" stroke="#0b2fae" stroke-width="1.45"/>
<circle cx="146.2" cy="457.5" r="3.15" fill="#80d8e0" fill-opacity="0.42" stroke="#0b2fae" stroke-width="1.45"/>
<circle cx="155.0" cy="420.8" r="3.15" fill="#80d8e0" fill-opacity="0.42" stroke="#0b2fae" stroke-width="1.45"/>
<circle cx="163.8" cy="445.5" r="3.15" fill="#80d8e0" fill-opacity="0.42" stroke="#0b2fae" stroke-width="1.45"/>
<circle cx="172.0" cy="431.2" r="3.15" fill="#80d8e0" fill-opacity="0.42" stroke="#0b2fae" stroke-width="1.45"/>
<circle cx="180.5" cy="439.2" r="3.15" fill="#80d8e0" fill-opacity="0.42" stroke="#0b2fae" stroke-width="1.45"/>
<circle cx="189.2" cy="440.8" r="3.15" fill="#80d8e0" fill-opacity="0.42" stroke="#0b2fae" stroke-width="1.45"/>
<circle cx="189.2" cy="469.5" r="3.15" fill="#80d8e0" fill-opacity="0.42" stroke="#0b2fae" stroke-width="1.45"/>
<circle cx="206.2" cy="434.5" r="3.15" fill="#80d8e0" fill-opacity="0.42" stroke="#0b2fae" stroke-width="1.45"/>
<circle cx="44.8" cy="368.8" r="3.15" fill="#f0a0d8" fill-opacity="0.42" stroke="#d4001f" stroke-width="1.45"/>
<circle cx="44.8" cy="372.4" r="3.15" fill="#f0a0d8" fill-opacity="0.42" stroke="#d4001f" stroke-width="1.45"/>
<circle cx="44.8" cy="376.1" r="3.15" fill="#f0a0d8" fill-opacity="0.42" stroke="#d4001f" stroke-width="1.45"/>
<circle cx="44.8" cy="379.7" r="3.15" fill="#f0a0d8" fill-opacity="0.42" stroke="#d4001f" stroke-width="1.45"/>
<circle cx="44.8" cy="383.3" r="3.15" fill="#f0a0d8" fill-opacity="0.42" stroke="#d4001f" stroke-width="1.45"/>
<circle cx="44.8" cy="389.0" r="3.15" fill="#f0a0d8" fill-opacity="0.42" stroke="#d4001f" stroke-width="1.45"/>
<circle cx="44.8" cy="392.1" r="3.15" fill="#f0a0d8" fill-opacity="0.42" stroke="#d4001f" stroke-width="1.45"/>
<circle cx="44.8" cy="395.3" r="3.15" fill="#f0a0d8" fill-opacity="0.42" stroke="#d4001f" stroke-width="1.45"/>
<circle cx="44.8" cy="398.4" r="3.15" fill="#f0a0d8" fill-opacity="0.42" stroke="#d4001f" stroke-width="1.45"/>
<circle cx="44.8" cy="401.6" r="3.15" fill="#f0a0d8" fill-opacity="0.42" stroke="#d4001f" stroke-width="1.45"/>
<circle cx="44.8" cy="404.7" r="3.15" fill="#f0a0d8" fill-opacity="0.42" stroke="#d4001f" stroke-width="1.45"/>
<circle cx="44.8" cy="407.9" r="3.15" fill="#f0a0d8" fill-opacity="0.42" stroke="#d4001f" stroke-width="1.45"/>
<circle cx="44.8" cy="411.0" r="3.15" fill="#f0a0d8" fill-opacity="0.42" stroke="#d4001f" stroke-width="1.45"/>
<circle cx="44.8" cy="420.8" r="3.15" fill="#f0a0d8" fill-opacity="0.42" stroke="#d4001f" stroke-width="1.45"/>
<circle cx="44.8" cy="426.5" r="3.15" fill="#f0a0d8" fill-opacity="0.42" stroke="#d4001f" stroke-width="1.45"/>
<circle cx="44.8" cy="430.2" r="3.15" fill="#f0a0d8" fill-opacity="0.42" stroke="#d4001f" stroke-width="1.45"/>
<circle cx="44.8" cy="433.8" r="3.15" fill="#f0a0d8" fill-opacity="0.42" stroke="#d4001f" stroke-width="1.45"/>
<circle cx="44.8" cy="437.5" r="3.15" fill="#f0a0d8" fill-opacity="0.42" stroke="#d4001f" stroke-width="1.45"/>
<circle cx="44.8" cy="441.1" r="3.15" fill="#f0a0d8" fill-opacity="0.42" stroke="#d4001f" stroke-width="1.45"/>
<circle cx="44.8" cy="444.8" r="3.15" fill="#f0a0d8" fill-opacity="0.42" stroke="#d4001f" stroke-width="1.45"/>
<circle cx="53.5" cy="387.0" r="3.15" fill="#f0a0d8" fill-opacity="0.42" stroke="#d4001f" stroke-width="1.45"/>
<circle cx="53.5" cy="391.4" r="3.15" fill="#f0a0d8" fill-opacity="0.42" stroke="#d4001f" stroke-width="1.45"/>
<circle cx="53.5" cy="395.8" r="3.15" fill="#f0a0d8" fill-opacity="0.42" stroke="#d4001f" stroke-width="1.45"/>
<circle cx="53.5" cy="404.4" r="3.15" fill="#f0a0d8" fill-opacity="0.42" stroke="#d4001f" stroke-width="1.45"/>
<circle cx="53.5" cy="411.2" r="3.15" fill="#f0a0d8" fill-opacity="0.42" stroke="#d4001f" stroke-width="1.45"/>
<circle cx="53.5" cy="417.9" r="3.15" fill="#f0a0d8" fill-opacity="0.42" stroke="#d4001f" stroke-width="1.45"/>
<circle cx="53.5" cy="420.8" r="3.15" fill="#f0a0d8" fill-opacity="0.42" stroke="#d4001f" stroke-width="1.45"/>
<circle cx="53.5" cy="423.7" r="3.15" fill="#f0a0d8" fill-opacity="0.42" stroke="#d4001f" stroke-width="1.45"/>
<circle cx="53.5" cy="426.5" r="3.15" fill="#f0a0d8" fill-opacity="0.42" stroke="#d4001f" stroke-width="1.45"/>
<circle cx="53.5" cy="429.4" r="3.15" fill="#f0a0d8" fill-opacity="0.42" stroke="#d4001f" stroke-width="1.45"/>
<circle cx="53.5" cy="432.3" r="3.15" fill="#f0a0d8" fill-opacity="0.42" stroke="#d4001f" stroke-width="1.45"/>
<circle cx="53.5" cy="435.2" r="3.15" fill="#f0a0d8" fill-opacity="0.42" stroke="#d4001f" stroke-width="1.45"/>
<circle cx="53.5" cy="438.0" r="3.15" fill="#f0a0d8" fill-opacity="0.42" stroke="#d4001f" stroke-width="1.45"/>
<circle cx="53.5" cy="440.9" r="3.15" fill="#f0a0d8" fill-opacity="0.42" stroke="#d4001f" stroke-width="1.45"/>
<circle cx="53.5" cy="443.8" r="3.15" fill="#f0a0d8" fill-opacity="0.42" stroke="#d4001f" stroke-width="1.45"/>
<circle cx="70.3" cy="393.8" r="3.15" fill="#f0a0d8" fill-opacity="0.42" stroke="#d4001f" stroke-width="1.45"/>
<circle cx="70.3" cy="396.7" r="3.15" fill="#f0a0d8" fill-opacity="0.42" stroke="#d4001f" stroke-width="1.45"/>
<circle cx="70.3" cy="405.4" r="3.15" fill="#f0a0d8" fill-opacity="0.42" stroke="#d4001f" stroke-width="1.45"/>
<circle cx="70.3" cy="407.3" r="3.15" fill="#f0a0d8" fill-opacity="0.42" stroke="#d4001f" stroke-width="1.45"/>
<circle cx="70.3" cy="416.0" r="3.15" fill="#f0a0d8" fill-opacity="0.42" stroke="#d4001f" stroke-width="1.45"/>
<circle cx="70.3" cy="419.0" r="3.15" fill="#f0a0d8" fill-opacity="0.42" stroke="#d4001f" stroke-width="1.45"/>
<circle cx="70.3" cy="422.0" r="3.15" fill="#f0a0d8" fill-opacity="0.42" stroke="#d4001f" stroke-width="1.45"/>
<circle cx="70.3" cy="425.0" r="3.15" fill="#f0a0d8" fill-opacity="0.42" stroke="#d4001f" stroke-width="1.45"/>
<circle cx="70.3" cy="428.1" r="3.15" fill="#f0a0d8" fill-opacity="0.42" stroke="#d4001f" stroke-width="1.45"/>
<circle cx="70.3" cy="431.1" r="3.15" fill="#f0a0d8" fill-opacity="0.42" stroke="#d4001f" stroke-width="1.45"/>
<circle cx="70.3" cy="434.1" r="3.15" fill="#f0a0d8" fill-opacity="0.42" stroke="#d4001f" stroke-width="1.45"/>
<circle cx="70.3" cy="437.1" r="3.15" fill="#f0a0d8" fill-opacity="0.42" stroke="#d4001f" stroke-width="1.45"/>
<circle cx="70.3" cy="464.8" r="3.15" fill="#f0a0d8" fill-opacity="0.42" stroke="#d4001f" stroke-width="1.45"/>
<circle cx="129.8" cy="402.5" r="3.15" fill="#f0a0d8" fill-opacity="0.42" stroke="#d4001f" stroke-width="1.45"/>
<circle cx="129.8" cy="408.3" r="3.15" fill="#f0a0d8" fill-opacity="0.42" stroke="#d4001f" stroke-width="1.45"/>
<circle cx="129.8" cy="412.9" r="3.15" fill="#f0a0d8" fill-opacity="0.42" stroke="#d4001f" stroke-width="1.45"/>
<circle cx="129.8" cy="417.4" r="3.15" fill="#f0a0d8" fill-opacity="0.42" stroke="#d4001f" stroke-width="1.45"/>
<circle cx="129.8" cy="421.9" r="3.15" fill="#f0a0d8" fill-opacity="0.42" stroke="#d4001f" stroke-width="1.45"/>
<circle cx="129.8" cy="426.5" r="3.15" fill="#f0a0d8" fill-opacity="0.42" stroke="#d4001f" stroke-width="1.45"/>
<circle cx="44.5" cy="440.7" r="3.15" fill="#80d8e0" fill-opacity="0.42" stroke="#0b2fae" stroke-width="1.45"/>
<circle cx="129.8" cy="425.5" r="3.15" fill="#80d8e0" fill-opacity="0.42" stroke="#0b2fae" stroke-width="1.45"/>
<path d="M36.5,367.1 L36.5,488.5 L222.0,488.5" fill="none" stroke="#000" stroke-width="1.7" stroke-linecap="butt" stroke-linejoin="miter"/>
<line x1="44.5" y1="488.5" x2="44.5" y2="492.7" stroke="#000" stroke-width="1.6"/>
<text opacity="0.99" x="44.0" y="503.1" font-size="10.4" text-anchor="middle" font-weight="normal" fill="#111" textLength="5.2" lengthAdjust="spacingAndGlyphs" stroke="#111" stroke-width="0.3">0</text>
<line x1="87.0" y1="488.5" x2="87.0" y2="492.7" stroke="#000" stroke-width="1.6"/>
<text opacity="0.99" x="86.5" y="503.1" font-size="10.4" text-anchor="middle" font-weight="normal" fill="#111" textLength="5.2" lengthAdjust="spacingAndGlyphs" stroke="#111" stroke-width="0.3">5</text>
<line x1="129.5" y1="488.5" x2="129.5" y2="492.7" stroke="#000" stroke-width="1.6"/>
<text opacity="0.99" x="128.3" y="503.1" font-size="10.4" text-anchor="middle" font-weight="normal" fill="#111" textLength="10.4" lengthAdjust="spacingAndGlyphs" stroke="#111" stroke-width="0.3">10</text>
<line x1="172.0" y1="488.5" x2="172.0" y2="492.7" stroke="#000" stroke-width="1.6"/>
<text opacity="0.99" x="170.8" y="503.1" font-size="10.4" text-anchor="middle" font-weight="normal" fill="#111" textLength="10.4" lengthAdjust="spacingAndGlyphs" stroke="#111" stroke-width="0.3">15</text>
<line x1="214.5" y1="488.5" x2="214.5" y2="492.7" stroke="#000" stroke-width="1.6"/>
<text opacity="0.99" x="213.3" y="503.1" font-size="10.4" text-anchor="middle" font-weight="normal" fill="#111" textLength="10.4" lengthAdjust="spacingAndGlyphs" stroke="#111" stroke-width="0.3">20</text>
<line x1="32.0" y1="485.7" x2="36.5" y2="485.7" stroke="#000" stroke-width="1.6"/>
<text opacity="0.99" x="30.1" y="490.0" font-size="10.4" text-anchor="end" font-weight="normal" fill="#111" textLength="5.2" lengthAdjust="spacingAndGlyphs" stroke="#111" stroke-width="0.3">2</text>
<line x1="32.0" y1="450.1" x2="36.5" y2="450.1" stroke="#000" stroke-width="1.6"/>
<text opacity="0.99" x="30.1" y="454.4" font-size="10.4" text-anchor="end" font-weight="normal" fill="#111" textLength="5.2" lengthAdjust="spacingAndGlyphs" stroke="#111" stroke-width="0.3">4</text>
<line x1="32.0" y1="415.3" x2="36.5" y2="415.3" stroke="#000" stroke-width="1.6"/>
<text opacity="0.99" x="30.1" y="419.6" font-size="10.4" text-anchor="end" font-weight="normal" fill="#111" textLength="5.2" lengthAdjust="spacingAndGlyphs" stroke="#111" stroke-width="0.3">6</text>
<line x1="32.0" y1="380.2" x2="36.5" y2="380.2" stroke="#000" stroke-width="1.6"/>
<text opacity="0.99" x="30.1" y="384.5" font-size="10.4" text-anchor="end" font-weight="normal" fill="#111" textLength="5.2" lengthAdjust="spacingAndGlyphs" stroke="#111" stroke-width="0.3">8</text>
<text opacity="0.99" x="139.7" y="521.5" font-size="11.5" text-anchor="middle" font-weight="normal" fill="#111" textLength="90" lengthAdjust="spacingAndGlyphs" stroke="#111" stroke-width="0.65">Follow-up / Age (years)</text>
<text opacity="0.99" x="18.4" y="428.0" font-size="11.5" text-anchor="middle" font-weight="normal" fill="#111" textLength="46" lengthAdjust="spacingAndGlyphs" transform="rotate(-90 18.4 428.0)" stroke="#111" stroke-width="0.7">Flt3L (NPX)</text>
<line x1="191.5" y1="371.9" x2="203.89999999999998" y2="371.9" stroke="#d4001f" stroke-width="1.4"/>
<circle cx="197.7" cy="371.9" r="3.15" fill="#f0a0d8" fill-opacity="0.22" stroke="#d4001f" stroke-width="1.45"/>
<text opacity="0.99" x="209.2" y="375.09999999999997" font-size="10.3" text-anchor="start" font-weight="normal" fill="#111" textLength="19.7" lengthAdjust="spacingAndGlyphs" stroke="#111" stroke-width="0.3">MPS</text>
<line x1="191.5" y1="388.8" x2="203.89999999999998" y2="388.8" stroke="#0b2fae" stroke-width="1.4"/>
<circle cx="197.7" cy="388.8" r="3.15" fill="#80d8e0" fill-opacity="0.22" stroke="#0b2fae" stroke-width="1.45"/>
<text opacity="0.99" x="206.9" y="392.0" font-size="10.3" text-anchor="start" font-weight="normal" fill="#111" textLength="34.6" lengthAdjust="spacingAndGlyphs" stroke="#111" stroke-width="0.3">Controls</text>
<rect x="0" y="0" width="520" height="1.6" fill="#000"/>
<rect x="0" y="0" width="1.7" height="541" fill="#000"/>
<rect x="518.1" y="0" width="1.9" height="541" fill="#000"/>
<rect x="0" y="539.0" width="520" height="2" fill="#000"/>
</svg>
</body></html>
